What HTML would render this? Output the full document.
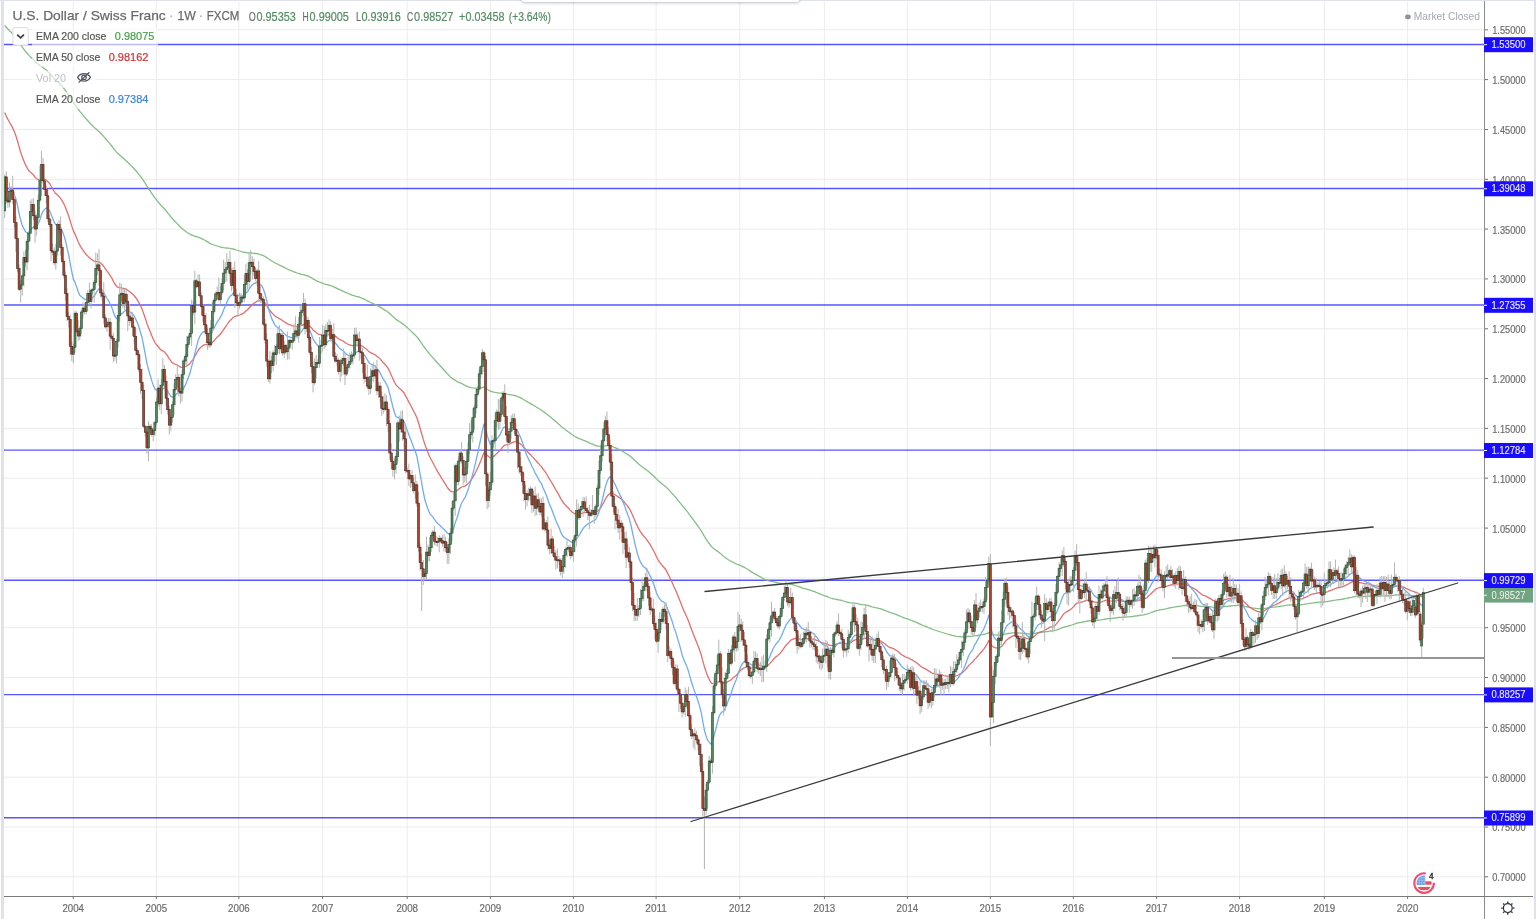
<!DOCTYPE html>
<html><head><meta charset="utf-8"><title>USDCHF 1W</title>
<style>
html,body{margin:0;padding:0;background:#fff;}
body{width:1536px;height:919px;overflow:hidden;position:relative;}
svg{position:absolute;left:0;top:0;}
#frame-top{position:absolute;left:0;top:0;width:1536px;height:1px;background:#dfe2ea;}
#frame-left{position:absolute;left:1px;top:0;width:3px;height:919px;background:#dfe2ea;}
#frame-right{position:absolute;left:1534px;top:0;width:2px;height:919px;background:#dfe2ea;}
#tb{position:absolute;left:521px;top:-6px;width:279px;height:8px;background:#fff;border-radius:4px;box-shadow:0 1px 3px rgba(60,70,90,0.35);}
</style></head><body>
<svg width="1536" height="919" viewBox="0 0 1536 919" font-family="Liberation Sans, Arial, sans-serif">
<defs><clipPath id="cp"><rect x="4" y="1" width="1480" height="895"/></clipPath></defs>
<g clip-path="url(#cp)">
<g stroke="#ececec" stroke-width="1"><line x1="4" y1="29.8" x2="1484" y2="29.8"/><line x1="4" y1="79.6" x2="1484" y2="79.6"/><line x1="4" y1="129.5" x2="1484" y2="129.5"/><line x1="4" y1="179.3" x2="1484" y2="179.3"/><line x1="4" y1="229.1" x2="1484" y2="229.1"/><line x1="4" y1="278.9" x2="1484" y2="278.9"/><line x1="4" y1="328.8" x2="1484" y2="328.8"/><line x1="4" y1="378.6" x2="1484" y2="378.6"/><line x1="4" y1="428.4" x2="1484" y2="428.4"/><line x1="4" y1="478.2" x2="1484" y2="478.2"/><line x1="4" y1="528.1" x2="1484" y2="528.1"/><line x1="4" y1="577.9" x2="1484" y2="577.9"/><line x1="4" y1="627.7" x2="1484" y2="627.7"/><line x1="4" y1="677.5" x2="1484" y2="677.5"/><line x1="4" y1="727.4" x2="1484" y2="727.4"/><line x1="4" y1="777.2" x2="1484" y2="777.2"/><line x1="4" y1="827.0" x2="1484" y2="827.0"/><line x1="4" y1="876.8" x2="1484" y2="876.8"/><line x1="73.2" y1="2" x2="73.2" y2="896"/><line x1="156.3" y1="2" x2="156.3" y2="896"/><line x1="238.9" y1="2" x2="238.9" y2="896"/><line x1="322.6" y1="2" x2="322.6" y2="896"/><line x1="407.2" y1="2" x2="407.2" y2="896"/><line x1="490.4" y1="2" x2="490.4" y2="896"/><line x1="573.4" y1="2" x2="573.4" y2="896"/><line x1="656.1" y1="2" x2="656.1" y2="896"/><line x1="739.8" y1="2" x2="739.8" y2="896"/><line x1="824.4" y1="2" x2="824.4" y2="896"/><line x1="907.4" y1="2" x2="907.4" y2="896"/><line x1="990.3" y1="2" x2="990.3" y2="896"/><line x1="1073.3" y1="2" x2="1073.3" y2="896"/><line x1="1156.6" y1="2" x2="1156.6" y2="896"/><line x1="1239.6" y1="2" x2="1239.6" y2="896"/><line x1="1324.3" y1="2" x2="1324.3" y2="896"/><line x1="1407.6" y1="2" x2="1407.6" y2="896"/></g>
<g stroke="#3a3aff" stroke-width="1.35" stroke-opacity="0.86"><line x1="4" y1="44.45" x2="1484" y2="44.45"/><line x1="4" y1="188.46" x2="1484" y2="188.46"/><line x1="4" y1="304.98" x2="1484" y2="304.98"/><line x1="4" y1="450.18" x2="1484" y2="450.18"/><line x1="4" y1="580.28" x2="1484" y2="580.28"/><line x1="4" y1="694.59" x2="1484" y2="694.59"/><line x1="4" y1="817.74" x2="1484" y2="817.74"/></g>
<polyline points="4.7,25.5 6.3,27.3 7.9,29.0 9.5,30.6 11.1,32.2 12.7,33.9 14.3,35.7 15.9,37.8 17.5,40.1 19.1,42.5 20.7,44.9 22.3,47.2 23.9,49.3 25.5,51.5 27.1,53.3 28.7,55.1 30.3,56.7 31.9,58.2 33.5,59.7 35.1,61.4 36.7,63.0 38.3,64.3 39.9,65.5 41.5,66.5 43.1,67.6 44.7,68.8 46.3,70.1 47.9,71.6 49.5,73.1 51.0,74.9 52.6,76.6 54.2,78.5 55.8,80.2 57.4,81.6 59.0,83.1 60.6,84.7 62.2,86.5 63.8,88.4 65.4,90.4 67.0,92.7 68.6,94.9 70.2,97.4 71.8,100.0 73.4,102.4 75.0,104.5 76.6,106.8 78.2,109.1 79.8,111.3 81.4,113.2 83.0,115.2 84.6,117.1 86.2,119.0 87.8,120.7 89.4,122.5 91.0,124.2 92.6,125.8 94.2,127.4 95.8,128.8 97.4,130.2 99.0,131.5 100.6,133.2 102.2,134.8 103.8,136.6 105.4,138.5 107.0,140.3 108.6,142.2 110.2,144.1 111.8,146.0 113.3,148.1 114.9,150.2 116.5,152.1 118.1,153.7 119.7,155.1 121.3,156.5 122.9,157.9 124.5,159.3 126.1,160.7 127.7,162.3 129.3,163.8 130.9,165.4 132.5,167.0 134.1,168.7 135.7,170.5 137.3,172.3 138.9,174.3 140.5,176.3 142.1,178.5 143.7,180.9 145.3,183.4 146.9,186.1 148.5,188.4 150.1,190.8 151.7,193.3 153.3,195.6 154.9,197.9 156.5,199.9 158.1,201.8 159.7,203.8 161.3,205.6 162.9,207.2 164.5,209.0 166.1,210.8 167.7,212.8 169.3,214.9 170.9,217.0 172.5,218.8 174.1,220.5 175.7,222.1 177.2,223.6 178.8,225.3 180.4,227.0 182.0,228.5 183.6,229.8 185.2,231.0 186.8,232.2 188.4,233.2 190.0,234.2 191.6,234.9 193.2,235.7 194.8,236.1 196.4,236.6 198.0,237.1 199.6,237.7 201.2,238.3 202.8,239.1 204.4,240.0 206.0,240.9 207.6,241.9 209.2,242.9 210.8,243.8 212.4,244.5 214.0,245.0 215.6,245.5 217.2,246.0 218.8,246.5 220.4,247.0 222.0,247.3 223.6,247.6 225.2,247.8 226.8,248.0 228.4,248.1 230.0,248.4 231.6,248.8 233.2,249.0 234.8,249.4 236.4,250.0 238.0,250.5 239.6,251.0 241.2,251.5 242.7,252.0 244.3,252.3 245.9,252.5 247.5,252.8 249.1,252.9 250.7,253.0 252.3,253.1 253.9,253.3 255.5,253.5 257.1,253.7 258.7,254.1 260.3,254.6 261.9,255.0 263.5,255.7 265.1,256.5 266.7,257.6 268.3,258.8 269.9,259.8 271.5,260.8 273.1,261.8 274.7,262.7 276.3,263.5 277.9,264.2 279.5,265.1 281.1,265.8 282.7,266.6 284.3,267.4 285.9,268.3 287.5,269.0 289.1,269.8 290.7,270.5 292.3,271.2 293.9,271.8 295.5,272.4 297.1,273.0 298.7,273.5 300.3,273.9 301.9,274.3 303.5,274.6 305.0,275.1 306.6,275.6 308.2,276.2 309.8,276.9 311.4,277.8 313.0,278.9 314.6,279.7 316.2,280.6 317.8,281.4 319.4,282.0 321.0,282.7 322.6,283.2 324.2,283.8 325.8,284.3 327.4,284.7 329.0,285.1 330.6,285.7 332.2,286.2 333.8,286.9 335.4,287.6 337.0,288.3 338.6,289.1 340.2,289.9 341.8,290.6 343.4,291.3 345.0,292.1 346.6,292.8 348.2,293.5 349.8,294.2 351.4,294.8 353.0,295.4 354.6,295.8 356.2,296.3 357.8,296.7 359.4,297.2 361.0,297.8 362.6,298.4 364.2,299.2 365.8,300.0 367.4,300.9 369.0,301.7 370.5,302.5 372.1,303.2 373.7,303.9 375.3,304.6 376.9,305.4 378.5,306.2 380.1,307.1 381.7,308.1 383.3,309.1 384.9,310.1 386.5,311.0 388.1,312.2 389.7,313.6 391.3,315.0 392.9,316.6 394.5,318.0 396.1,319.4 397.7,320.4 399.3,321.5 400.9,322.5 402.5,323.6 404.1,324.7 405.7,326.2 407.3,327.6 408.9,329.1 410.5,330.6 412.1,332.1 413.7,333.7 415.3,335.2 416.9,336.9 418.5,339.0 420.1,341.2 421.7,343.4 423.3,345.8 424.9,348.0 426.5,350.1 428.1,352.1 429.7,354.1 431.3,355.9 432.9,357.6 434.4,359.4 436.0,361.2 437.6,363.0 439.2,364.8 440.8,366.5 442.4,368.3 444.0,370.0 445.6,371.8 447.2,373.6 448.8,375.3 450.4,376.9 452.0,378.2 453.6,379.4 455.2,380.2 456.8,381.3 458.4,382.1 460.0,382.8 461.6,383.5 463.2,384.4 464.8,385.3 466.4,386.1 468.0,386.7 469.6,387.2 471.2,387.6 472.8,387.9 474.4,388.1 476.0,388.2 477.6,388.2 479.2,388.1 480.8,387.9 482.4,387.5 484.0,387.2 485.6,388.1 487.2,389.2 488.8,390.2 490.4,391.1 492.0,391.6 493.6,392.1 495.2,392.4 496.8,392.6 498.3,392.9 499.9,393.1 501.5,393.1 503.1,393.2 504.7,393.4 506.3,393.8 507.9,394.3 509.5,394.6 511.1,394.9 512.7,395.2 514.3,395.5 515.9,395.9 517.5,396.5 519.1,397.2 520.7,397.9 522.3,398.7 523.9,399.7 525.5,400.7 527.1,401.6 528.7,402.5 530.3,403.4 531.9,404.4 533.5,405.3 535.1,406.3 536.7,407.3 538.3,408.3 539.9,409.3 541.5,410.2 543.1,411.4 544.7,412.5 546.3,413.7 547.9,415.0 549.5,416.3 551.1,417.5 552.7,418.9 554.3,420.3 555.9,421.6 557.5,423.0 559.1,424.4 560.6,425.9 562.2,427.3 563.8,428.5 565.4,429.7 567.0,430.9 568.6,432.1 570.2,433.3 571.8,434.5 573.4,435.5 575.0,436.5 576.6,437.3 578.2,438.1 579.8,438.8 581.4,439.4 583.0,440.1 584.6,440.7 586.2,441.4 587.8,442.1 589.4,442.9 591.0,443.6 592.6,444.2 594.2,444.9 595.8,445.6 597.4,446.0 599.0,446.2 600.6,446.3 602.2,446.3 603.8,446.1 605.4,445.8 607.0,445.7 608.6,445.7 610.2,445.9 611.8,446.4 613.4,447.0 615.0,447.7 616.6,448.4 618.2,449.2 619.8,449.9 621.4,450.7 623.0,451.6 624.5,452.5 626.1,453.5 627.7,454.5 629.3,455.6 630.9,456.8 632.5,458.3 634.1,459.8 635.7,461.3 637.3,462.8 638.9,464.3 640.5,465.6 642.1,466.8 643.7,468.0 645.3,469.1 646.9,470.3 648.5,471.6 650.1,472.9 651.7,474.3 653.3,475.8 654.9,477.3 656.5,478.9 658.1,480.5 659.7,481.8 661.3,483.2 662.9,484.5 664.5,485.8 666.1,487.1 667.7,488.8 669.3,490.4 670.9,492.1 672.5,493.8 674.1,495.7 675.7,497.4 677.3,499.3 678.9,501.3 680.5,503.3 682.1,505.4 683.7,507.4 685.3,509.2 686.9,511.1 688.5,513.2 690.0,515.3 691.6,517.5 693.2,519.7 694.8,521.8 696.4,524.0 698.0,526.2 699.6,528.5 701.2,530.9 702.8,533.6 704.4,536.4 706.0,538.9 707.6,541.3 709.2,543.5 710.8,545.7 712.4,547.4 714.0,548.7 715.6,550.0 717.2,551.1 718.8,552.2 720.4,553.4 722.0,554.9 723.6,556.4 725.2,557.6 726.8,558.7 728.4,559.7 730.0,560.7 731.6,561.6 733.2,562.3 734.8,563.2 736.4,564.0 738.0,564.6 739.6,565.2 741.2,565.8 742.8,566.6 744.4,567.4 746.0,568.3 747.6,569.3 749.2,570.3 750.8,571.4 752.4,572.4 753.9,573.3 755.5,574.1 757.1,575.1 758.7,576.0 760.3,576.9 761.9,577.8 763.5,578.7 765.1,579.6 766.7,580.2 768.3,580.7 769.9,581.1 771.5,581.4 773.1,581.7 774.7,582.1 776.3,582.5 777.9,582.9 779.5,583.3 781.1,583.5 782.7,583.7 784.3,583.8 785.9,583.8 787.5,584.0 789.1,584.2 790.7,584.3 792.3,584.6 793.9,585.0 795.5,585.5 797.1,586.1 798.7,586.6 800.3,587.2 801.9,587.8 803.5,588.3 805.1,588.7 806.7,589.2 808.3,589.6 809.9,590.1 811.5,590.7 813.1,591.2 814.7,591.7 816.2,592.4 817.8,593.0 819.4,593.7 821.0,594.4 822.6,595.0 824.2,595.6 825.8,596.1 827.4,596.7 829.0,597.5 830.6,598.0 832.2,598.5 833.8,598.9 835.4,599.2 837.0,599.5 838.6,599.8 840.2,600.1 841.8,600.5 843.4,601.0 845.0,601.5 846.6,602.0 848.2,602.3 849.8,602.6 851.4,602.8 853.0,602.9 854.6,603.1 856.2,603.3 857.8,603.7 859.4,604.1 861.0,604.4 862.6,604.7 864.2,604.8 865.8,605.0 867.4,605.4 869.0,605.8 870.6,606.3 872.2,606.8 873.8,607.2 875.4,607.6 877.0,607.9 878.6,608.3 880.1,608.7 881.7,609.2 883.3,609.8 884.9,610.4 886.5,611.1 888.1,611.7 889.7,612.4 891.3,612.8 892.9,613.3 894.5,613.8 896.1,614.4 897.7,615.1 899.3,615.8 900.9,616.5 902.5,617.1 904.1,617.8 905.7,618.4 907.3,618.9 908.9,619.4 910.5,620.1 912.1,620.6 913.7,621.3 915.3,621.9 916.9,622.6 918.5,623.3 920.1,624.1 921.7,624.9 923.3,625.5 924.9,626.1 926.5,626.7 928.1,627.5 929.7,628.1 931.3,628.9 932.9,629.5 934.5,630.0 936.1,630.5 937.7,631.0 939.3,631.5 940.9,632.0 942.5,632.5 944.0,633.0 945.6,633.5 947.2,634.0 948.8,634.5 950.4,634.9 952.0,635.4 953.6,635.7 955.2,636.1 956.8,636.4 958.4,636.6 960.0,636.7 961.6,636.9 963.2,636.9 964.8,636.9 966.4,636.7 968.0,636.5 969.6,636.4 971.2,636.3 972.8,636.2 974.4,635.9 976.0,635.7 977.6,635.5 979.2,635.2 980.8,634.9 982.4,634.7 984.0,634.3 985.6,633.9 987.2,633.3 988.8,632.6 990.4,633.5 992.0,634.2 993.6,634.6 995.2,634.9 996.8,635.1 998.4,635.1 1000.0,635.2 1001.6,635.0 1003.2,634.7 1004.8,634.2 1006.4,633.8 1008.0,633.5 1009.5,633.3 1011.1,633.1 1012.7,632.9 1014.3,632.8 1015.9,632.8 1017.5,632.9 1019.1,633.1 1020.7,633.2 1022.3,633.3 1023.9,633.4 1025.5,633.6 1027.1,633.8 1028.7,633.9 1030.3,633.9 1031.9,633.8 1033.5,633.6 1035.1,633.3 1036.7,632.9 1038.3,632.7 1039.9,632.5 1041.5,632.3 1043.1,632.2 1044.7,631.9 1046.3,631.7 1047.9,631.5 1049.5,631.2 1051.1,631.0 1052.7,630.9 1054.3,630.6 1055.9,630.2 1057.5,629.7 1059.1,629.1 1060.7,628.5 1062.3,627.7 1063.9,627.1 1065.5,626.6 1067.1,626.3 1068.7,625.9 1070.3,625.5 1071.8,625.0 1073.4,624.5 1075.0,623.8 1076.6,623.2 1078.2,622.9 1079.8,622.6 1081.4,622.3 1083.0,622.0 1084.6,621.6 1086.2,621.3 1087.8,621.0 1089.4,620.8 1091.0,620.7 1092.6,620.7 1094.2,620.7 1095.8,620.5 1097.4,620.4 1099.0,620.2 1100.6,619.9 1102.2,619.7 1103.8,619.3 1105.4,619.0 1107.0,618.8 1108.6,618.6 1110.2,618.6 1111.8,618.5 1113.4,618.2 1115.0,618.0 1116.6,617.8 1118.2,617.5 1119.8,617.4 1121.4,617.3 1123.0,617.3 1124.6,617.2 1126.2,617.1 1127.8,616.9 1129.4,616.8 1131.0,616.6 1132.6,616.5 1134.2,616.2 1135.8,616.0 1137.3,615.8 1138.9,615.5 1140.5,615.2 1142.1,615.2 1143.7,614.9 1145.3,614.4 1146.9,614.1 1148.5,613.5 1150.1,613.0 1151.7,612.4 1153.3,611.8 1154.9,611.2 1156.5,610.6 1158.1,610.3 1159.7,609.9 1161.3,609.6 1162.9,609.4 1164.5,609.1 1166.1,608.8 1167.7,608.4 1169.3,608.0 1170.9,607.7 1172.5,607.4 1174.1,607.2 1175.7,606.9 1177.3,606.6 1178.9,606.3 1180.5,606.1 1182.1,605.9 1183.7,605.6 1185.3,605.5 1186.9,605.5 1188.5,605.5 1190.1,605.5 1191.7,605.5 1193.3,605.5 1194.9,605.6 1196.5,605.7 1198.1,605.9 1199.7,606.1 1201.2,606.3 1202.8,606.4 1204.4,606.5 1206.0,606.5 1207.6,606.6 1209.2,606.7 1210.8,606.9 1212.4,607.1 1214.0,607.2 1215.6,607.1 1217.2,607.2 1218.8,607.1 1220.4,607.1 1222.0,607.0 1223.6,606.7 1225.2,606.4 1226.8,606.3 1228.4,606.1 1230.0,606.0 1231.6,605.9 1233.2,605.7 1234.8,605.6 1236.4,605.5 1238.0,605.4 1239.6,605.3 1241.2,605.5 1242.8,605.9 1244.4,606.3 1246.0,606.6 1247.6,607.0 1249.2,607.3 1250.8,607.6 1252.4,607.9 1254.0,608.1 1255.6,608.3 1257.2,608.6 1258.8,608.7 1260.4,608.8 1262.0,608.8 1263.5,608.6 1265.1,608.4 1266.7,608.2 1268.3,607.9 1269.9,607.6 1271.5,607.4 1273.1,607.2 1274.7,607.1 1276.3,606.9 1277.9,606.7 1279.5,606.4 1281.1,606.1 1282.7,605.9 1284.3,605.6 1285.9,605.4 1287.5,605.1 1289.1,605.0 1290.7,604.8 1292.3,604.8 1293.9,604.8 1295.5,604.9 1297.1,605.0 1298.7,604.9 1300.3,604.8 1301.9,604.6 1303.5,604.4 1305.1,604.1 1306.7,603.9 1308.3,603.7 1309.9,603.3 1311.5,603.1 1313.1,602.9 1314.7,602.7 1316.3,602.5 1317.9,602.4 1319.5,602.2 1321.1,602.1 1322.7,602.0 1324.3,601.9 1325.9,601.7 1327.5,601.5 1329.0,601.2 1330.6,601.0 1332.2,600.7 1333.8,600.4 1335.4,600.2 1337.0,599.9 1338.6,599.7 1340.2,599.5 1341.8,599.3 1343.4,599.0 1345.0,598.7 1346.6,598.4 1348.2,598.0 1349.8,597.6 1351.4,597.3 1353.0,596.9 1354.6,596.9 1356.2,596.6 1357.8,596.6 1359.4,596.6 1361.0,596.6 1362.6,596.5 1364.2,596.4 1365.8,596.3 1367.4,596.3 1369.0,596.2 1370.6,596.2 1372.2,596.3 1373.8,596.2 1375.4,596.2 1377.0,596.2 1378.6,596.2 1380.2,596.0 1381.8,595.9 1383.4,595.8 1385.0,595.8 1386.6,595.6 1388.2,595.6 1389.8,595.6 1391.3,595.5 1392.9,595.4 1394.5,595.2 1396.1,595.0 1397.7,594.9 1399.3,594.9 1400.9,594.8 1402.5,594.9 1404.1,594.9 1405.7,595.1 1407.3,595.2 1408.9,595.3 1410.5,595.5 1412.1,595.6 1413.7,595.6 1415.3,595.8 1416.9,595.8 1418.5,596.0 1420.1,596.4 1421.7,596.7 1423.3,596.7" fill="none" stroke="#7dbb7d" stroke-width="1.3" stroke-opacity="0.95" stroke-linejoin="round"/>
<polyline points="4.7,112.6 6.3,116.1 7.9,119.4 9.5,122.3 11.1,124.9 12.7,127.9 14.3,131.6 15.9,135.8 17.5,141.0 19.1,146.8 20.7,152.2 22.3,157.0 23.9,161.0 25.5,164.9 27.1,167.9 28.7,170.5 30.3,172.1 31.9,173.4 33.5,175.0 35.1,177.1 36.7,178.7 38.3,179.6 39.9,179.6 41.5,179.0 43.1,179.1 44.7,179.5 46.3,180.1 47.9,181.7 49.5,183.3 51.0,186.0 52.6,188.6 54.2,191.5 55.8,193.8 57.4,195.0 59.0,196.4 60.6,198.4 62.2,200.9 63.8,203.8 65.4,207.3 67.0,211.6 68.6,215.8 70.2,220.9 71.8,226.1 73.4,230.9 75.0,234.1 76.6,237.9 78.2,241.8 79.8,245.2 81.4,247.8 83.0,250.2 84.6,252.6 86.2,254.5 87.8,256.1 89.4,257.8 91.0,259.1 92.6,260.3 94.2,261.2 95.8,261.5 97.4,261.6 99.0,261.9 100.6,263.2 102.2,264.5 103.8,266.5 105.4,268.9 107.0,271.1 108.6,273.1 110.2,275.6 111.8,278.0 113.3,281.1 114.9,284.0 116.5,286.2 118.1,287.4 119.7,287.7 121.3,287.9 122.9,288.5 124.5,288.7 126.1,289.2 127.7,290.3 129.3,291.5 130.9,292.5 132.5,293.9 134.1,295.5 135.7,297.7 137.3,299.9 138.9,302.6 140.5,305.8 142.1,309.1 143.7,313.7 145.3,318.3 146.9,323.4 148.5,327.5 150.1,331.4 151.7,335.5 153.3,339.2 154.9,342.5 156.5,344.8 158.1,346.5 159.7,348.7 161.3,350.2 162.9,350.9 164.5,352.1 166.1,353.9 167.7,356.1 169.3,358.8 170.9,361.1 172.5,362.8 174.1,363.9 175.7,364.5 177.2,365.0 178.8,366.0 180.4,367.1 182.0,367.4 183.6,367.1 185.2,366.7 186.8,365.9 188.4,364.7 190.0,363.5 191.6,361.2 193.2,359.3 194.8,356.2 196.4,353.5 198.0,350.7 199.6,348.5 201.2,346.9 202.8,345.6 204.4,344.8 206.0,344.4 207.6,344.3 209.2,344.3 210.8,343.7 212.4,342.4 214.0,340.8 215.6,338.9 217.2,337.1 218.8,335.7 220.4,334.0 222.0,332.0 223.6,329.7 225.2,327.3 226.8,325.0 228.4,322.5 230.0,320.6 231.6,319.2 233.2,317.3 234.8,316.5 236.4,315.9 238.0,315.5 239.6,315.0 241.2,314.3 242.7,313.7 244.3,312.5 245.9,311.0 247.5,309.8 249.1,308.0 250.7,306.2 252.3,304.6 253.9,303.3 255.5,302.4 257.1,301.1 258.7,300.8 260.3,300.7 261.9,300.7 263.5,301.6 265.1,303.1 266.7,305.4 268.3,308.3 269.9,310.3 271.5,312.5 273.1,314.1 274.7,315.7 276.3,316.9 277.9,317.5 279.5,318.8 281.1,319.4 282.7,320.7 284.3,321.7 285.9,322.9 287.5,323.9 289.1,324.5 290.7,325.2 292.3,325.8 293.9,326.1 295.5,326.3 297.1,326.7 298.7,326.6 300.3,326.0 301.9,325.4 303.5,324.6 305.0,324.7 306.6,324.5 308.2,325.1 309.8,326.1 311.4,327.7 313.0,329.9 314.6,331.3 316.2,332.6 317.8,333.8 319.4,334.3 321.0,334.7 322.6,334.7 324.2,335.1 325.8,334.9 327.4,334.8 329.0,334.4 330.6,334.6 332.2,334.6 333.8,335.4 335.4,336.4 337.0,337.4 338.6,338.7 340.2,339.7 341.8,340.5 343.4,341.2 345.0,342.5 346.6,343.5 348.2,344.3 349.8,345.0 351.4,345.3 353.0,345.7 354.6,345.3 356.2,345.1 357.8,344.9 359.4,345.2 361.0,345.5 362.6,346.2 364.2,347.4 365.8,348.6 367.4,350.1 369.0,351.6 370.5,352.6 372.1,353.3 373.7,354.2 375.3,354.8 376.9,356.2 378.5,357.4 380.1,358.9 381.7,360.9 383.3,362.7 384.9,364.3 386.5,366.1 388.1,368.3 389.7,371.6 391.3,375.2 392.9,378.8 394.5,382.2 396.1,385.1 397.7,386.6 399.3,388.3 400.9,389.5 402.5,391.2 404.1,393.0 405.7,396.1 407.3,399.0 408.9,402.1 410.5,405.0 412.1,408.1 413.7,411.3 415.3,414.2 416.9,417.7 418.5,422.8 420.1,428.2 421.7,433.7 423.3,439.4 424.9,444.6 426.5,448.8 428.1,453.0 429.7,456.7 431.3,459.8 432.9,462.7 434.4,465.7 436.0,468.7 437.6,471.6 439.2,474.2 440.8,476.8 442.4,479.4 444.0,481.8 445.6,484.4 447.2,487.1 448.8,489.3 450.4,491.1 452.0,491.7 453.6,492.1 455.2,491.1 456.8,490.7 458.4,489.5 460.0,488.1 461.6,487.0 463.2,486.5 464.8,486.1 466.4,485.1 468.0,483.7 469.6,481.8 471.2,479.8 472.8,477.4 474.4,474.7 476.0,471.5 477.6,468.3 479.2,464.6 480.8,460.8 482.4,456.5 484.0,452.7 485.6,453.6 487.2,455.4 488.8,456.8 490.4,457.8 492.0,457.1 493.6,456.4 495.2,455.0 496.8,453.4 498.3,452.1 499.9,450.6 501.5,448.6 503.1,446.4 504.7,445.2 506.3,444.8 507.9,444.7 509.5,444.2 511.1,443.3 512.7,442.4 514.3,441.9 515.9,441.6 517.5,442.0 519.1,443.0 520.7,444.1 522.3,445.6 523.9,447.5 525.5,449.5 527.1,451.3 528.7,453.0 530.3,454.4 531.9,456.4 533.5,457.9 535.1,459.9 536.7,461.5 538.3,463.2 539.9,465.1 541.5,466.6 543.1,469.1 544.7,471.2 546.3,473.5 547.9,476.3 549.5,479.1 551.1,481.5 552.7,484.3 554.3,487.1 555.9,490.0 557.5,492.7 559.1,495.4 560.6,498.4 562.2,501.0 563.8,503.2 565.4,505.0 567.0,506.7 568.6,508.3 570.2,510.1 571.8,511.8 573.4,512.9 575.0,513.8 576.6,513.6 578.2,513.8 579.8,513.6 581.4,513.3 583.0,512.9 584.6,512.7 586.2,512.6 587.8,512.6 589.4,512.7 591.0,512.8 592.6,512.7 594.2,512.8 595.8,512.5 597.4,511.6 599.0,510.0 600.6,507.8 602.2,505.2 603.8,502.2 605.4,499.0 607.0,496.5 608.6,494.5 610.2,493.2 611.8,493.3 613.4,493.9 615.0,494.7 616.6,495.7 618.2,496.9 619.8,497.9 621.4,499.1 623.0,500.8 624.5,502.3 626.1,504.4 627.7,506.3 629.3,508.5 630.9,511.4 632.5,515.1 634.1,518.8 635.7,522.6 637.3,526.0 638.9,529.2 640.5,531.9 642.1,534.2 643.7,536.3 645.3,537.9 646.9,539.8 648.5,542.1 650.1,544.7 651.7,547.3 653.3,550.2 654.9,553.3 656.5,556.8 658.1,559.8 659.7,562.1 661.3,564.4 662.9,566.2 664.5,568.0 666.1,570.1 667.7,573.5 669.3,576.5 670.9,579.7 672.5,583.2 674.1,587.1 675.7,590.3 677.3,594.2 678.9,598.1 680.5,602.2 682.1,606.5 683.7,610.4 685.3,613.7 686.9,617.2 688.5,621.0 690.0,625.3 691.6,629.6 693.2,633.7 694.8,637.7 696.4,641.7 698.0,645.7 699.6,650.0 701.2,654.8 702.8,660.8 704.4,666.7 706.0,671.5 707.6,675.9 709.2,679.2 710.8,682.5 712.4,683.7 714.0,683.7 715.6,683.3 717.2,682.6 718.8,681.5 720.4,681.5 722.0,682.0 723.6,683.0 725.2,682.8 726.8,682.4 728.4,681.3 730.0,680.6 731.6,679.4 733.2,677.7 734.8,676.5 736.4,675.2 738.0,673.3 739.6,671.4 741.2,669.7 742.8,668.6 744.4,667.7 746.0,667.4 747.6,667.4 749.2,667.7 750.8,668.1 752.4,668.2 753.9,667.9 755.5,667.6 757.1,667.6 758.7,667.7 760.3,667.7 761.9,667.8 763.5,667.7 765.1,667.6 766.7,666.5 768.3,665.1 769.9,663.4 771.5,661.6 773.1,659.6 774.7,658.0 776.3,656.6 777.9,655.4 779.5,653.9 781.1,652.1 782.7,650.0 784.3,647.7 785.9,645.4 787.5,643.7 789.1,642.1 790.7,640.3 792.3,639.4 793.9,638.8 795.5,638.5 797.1,638.7 798.7,638.9 800.3,639.2 801.9,639.3 803.5,639.3 805.1,639.1 806.7,638.9 808.3,638.7 809.9,638.8 811.5,638.9 813.1,639.1 814.7,639.4 816.2,640.1 817.8,640.7 819.4,641.5 821.0,642.3 822.6,642.9 824.2,643.3 825.8,643.6 827.4,644.0 829.0,645.1 830.6,645.3 832.2,645.6 833.8,645.2 835.4,644.7 837.0,643.9 838.6,643.4 840.2,643.1 841.8,642.9 843.4,643.2 845.0,643.4 846.6,643.7 848.2,643.4 849.8,643.1 851.4,642.2 853.0,640.9 854.6,640.1 856.2,639.5 857.8,639.9 859.4,640.1 861.0,639.8 862.6,639.3 864.2,638.4 865.8,638.1 867.4,638.4 869.0,638.6 870.6,639.1 872.2,639.7 873.8,640.1 875.4,640.3 877.0,640.2 878.6,640.5 880.1,640.9 881.7,641.7 883.3,642.8 884.9,643.8 886.5,645.3 888.1,646.5 889.7,647.5 891.3,647.9 892.9,648.4 894.5,649.2 896.1,650.2 897.7,651.3 899.3,652.6 900.9,654.0 902.5,655.2 904.1,656.1 905.7,657.0 907.3,657.7 908.9,658.1 910.5,659.3 912.1,659.8 913.7,661.0 915.3,661.8 916.9,663.1 918.5,664.2 920.1,665.8 921.7,667.0 923.3,667.8 924.9,668.6 926.5,669.4 928.1,670.7 929.7,671.5 931.3,672.7 932.9,673.5 934.5,673.9 936.1,674.1 937.7,674.4 939.3,674.5 940.9,674.9 942.5,675.2 944.0,675.6 945.6,675.8 947.2,676.1 948.8,676.4 950.4,676.3 952.0,676.6 953.6,676.4 955.2,676.1 956.8,675.6 958.4,675.0 960.0,674.1 961.6,673.2 963.2,671.9 964.8,670.4 966.4,668.5 968.0,666.3 969.6,664.6 971.2,663.1 972.8,661.9 974.4,659.6 976.0,658.1 977.6,656.3 979.2,654.4 980.8,652.5 982.4,650.7 984.0,648.8 985.6,646.4 987.2,643.8 988.8,640.6 990.4,643.6 992.0,645.9 993.6,647.1 995.2,647.7 996.8,648.1 998.4,647.7 1000.0,647.4 1001.6,646.4 1003.2,644.6 1004.8,642.2 1006.4,640.2 1008.0,638.9 1009.5,637.9 1011.1,636.8 1012.7,636.0 1014.3,635.6 1015.9,635.6 1017.5,635.7 1019.1,636.3 1020.7,636.8 1022.3,636.9 1023.9,637.3 1025.5,637.8 1027.1,638.5 1028.7,638.7 1030.3,638.6 1031.9,637.8 1033.5,636.9 1035.1,635.6 1036.7,634.1 1038.3,632.9 1039.9,632.2 1041.5,631.7 1043.1,631.3 1044.7,630.2 1046.3,629.4 1047.9,628.5 1049.5,627.4 1051.1,626.8 1052.7,626.6 1054.3,625.7 1055.9,624.4 1057.5,622.6 1059.1,620.4 1060.7,618.3 1062.3,615.8 1063.9,613.7 1065.5,612.4 1067.1,611.6 1068.7,610.6 1070.3,609.6 1071.8,608.4 1073.4,606.9 1075.0,605.0 1076.6,603.3 1078.2,602.8 1079.8,602.6 1081.4,602.1 1083.0,601.7 1084.6,601.0 1086.2,600.6 1087.8,600.2 1089.4,600.3 1091.0,600.6 1092.6,601.4 1094.2,602.1 1095.8,602.2 1097.4,602.6 1099.0,602.3 1100.6,602.1 1102.2,601.7 1103.8,601.0 1105.4,600.4 1107.0,600.3 1108.6,600.5 1110.2,600.9 1111.8,601.2 1113.4,600.9 1115.0,600.8 1116.6,600.5 1118.2,600.2 1119.8,600.5 1121.4,600.8 1123.0,601.3 1124.6,601.7 1126.2,601.7 1127.8,601.6 1129.4,601.7 1131.0,601.7 1132.6,601.7 1134.2,601.4 1135.8,601.2 1137.3,600.6 1138.9,600.0 1140.5,599.8 1142.1,600.1 1143.7,599.7 1145.3,598.3 1146.9,597.6 1148.5,595.8 1150.1,594.5 1151.7,593.0 1153.3,591.6 1154.9,589.9 1156.5,588.6 1158.1,588.0 1159.7,587.5 1161.3,587.2 1162.9,587.2 1164.5,586.8 1166.1,586.3 1167.7,585.9 1169.3,585.3 1170.9,585.0 1172.5,584.6 1174.1,584.6 1175.7,584.2 1177.3,584.1 1178.9,583.6 1180.5,583.7 1182.1,583.9 1183.7,583.7 1185.3,584.2 1186.9,584.9 1188.5,585.7 1190.1,586.5 1191.7,587.4 1193.3,588.1 1194.9,589.0 1196.5,590.0 1198.1,591.4 1199.7,592.7 1201.2,594.0 1202.8,595.1 1204.4,595.7 1206.0,596.1 1207.6,597.1 1209.2,597.9 1210.8,598.9 1212.4,600.1 1214.0,600.7 1215.6,600.7 1217.2,601.3 1218.8,601.2 1220.4,601.3 1222.0,601.0 1223.6,600.3 1225.2,599.4 1226.8,599.1 1228.4,598.7 1230.0,598.6 1231.6,598.3 1233.2,597.9 1234.8,597.8 1236.4,597.6 1238.0,597.8 1239.6,597.8 1241.2,598.8 1242.8,600.4 1244.4,602.2 1246.0,603.6 1247.6,605.2 1249.2,606.8 1250.8,607.8 1252.4,608.9 1254.0,609.9 1255.6,610.5 1257.2,611.4 1258.8,611.7 1260.4,612.1 1262.0,611.8 1263.5,611.2 1265.1,610.2 1266.7,609.2 1268.3,608.0 1269.9,607.0 1271.5,606.3 1273.1,605.5 1274.7,605.0 1276.3,604.4 1277.9,603.5 1279.5,602.7 1281.1,601.6 1282.7,601.0 1284.3,600.0 1285.9,599.4 1287.5,598.6 1289.1,598.1 1290.7,598.0 1292.3,597.9 1293.9,598.3 1295.5,599.0 1297.1,599.6 1298.7,599.5 1300.3,599.2 1301.9,598.9 1303.5,598.3 1305.1,597.3 1306.7,596.9 1308.3,596.0 1309.9,595.0 1311.5,594.4 1313.1,593.9 1314.7,593.6 1316.3,593.3 1317.9,592.9 1319.5,592.7 1321.1,592.7 1322.7,592.8 1324.3,592.5 1325.9,592.2 1327.5,591.8 1329.0,590.9 1330.6,590.5 1332.2,589.8 1333.8,589.2 1335.4,588.5 1337.0,587.9 1338.6,587.5 1340.2,587.3 1341.8,586.9 1343.4,586.4 1345.0,585.7 1346.6,584.9 1348.2,584.0 1349.8,583.0 1351.4,582.4 1353.0,581.4 1354.6,581.7 1356.2,581.5 1357.8,582.0 1359.4,582.5 1361.0,582.8 1362.6,583.2 1364.2,583.5 1365.8,583.6 1367.4,583.9 1369.0,584.1 1370.6,584.3 1372.2,585.2 1373.8,585.5 1375.4,585.9 1377.0,586.1 1378.6,586.4 1380.2,586.3 1381.8,586.4 1383.4,586.2 1385.0,586.4 1386.6,586.3 1388.2,586.5 1389.8,586.8 1391.3,586.7 1392.9,586.6 1394.5,586.2 1396.1,586.0 1397.7,585.8 1399.3,586.0 1400.9,586.3 1402.5,586.8 1404.1,587.3 1405.7,588.3 1407.3,588.8 1408.9,589.6 1410.5,590.5 1412.1,591.1 1413.7,591.4 1415.3,592.4 1416.9,592.5 1418.5,593.3 1420.1,595.1 1421.7,596.3 1423.3,596.1" fill="none" stroke="#e06666" stroke-width="1.3" stroke-opacity="0.95" stroke-linejoin="round"/>
<polyline points="4.7,188.8 6.3,189.9 7.9,191.0 9.5,191.1 11.1,191.0 12.7,191.8 14.3,194.7 15.9,198.9 17.5,205.5 19.1,213.5 20.7,220.3 22.3,225.6 23.9,228.6 25.5,231.8 27.1,232.7 28.7,232.8 30.3,230.7 31.9,228.2 33.5,227.0 35.1,227.2 36.7,226.3 38.3,223.8 39.9,219.7 41.5,214.4 43.1,211.3 44.7,209.2 46.3,207.9 47.9,208.9 49.5,210.4 51.0,214.3 52.6,217.9 54.2,222.2 55.8,224.9 57.4,224.9 59.0,225.3 60.6,227.4 62.2,230.7 63.8,234.9 65.4,240.5 67.0,247.7 68.6,254.6 70.2,263.3 71.8,272.0 73.4,279.1 75.0,282.4 76.6,287.0 78.2,291.7 79.8,295.2 81.4,296.8 83.0,297.9 84.6,299.2 86.2,299.5 87.8,298.9 89.4,299.2 91.0,298.3 92.6,297.5 94.2,296.1 95.8,293.4 97.4,290.7 99.0,288.8 100.6,289.2 102.2,289.8 103.8,292.5 105.4,295.8 107.0,298.5 108.6,300.8 110.2,304.2 111.8,307.4 113.3,312.0 114.9,316.2 116.5,318.5 118.1,318.3 119.7,316.0 121.3,313.9 122.9,312.9 124.5,311.1 126.1,310.2 127.7,310.7 129.3,311.7 130.9,312.3 132.5,313.7 134.1,315.8 135.7,319.1 137.3,322.5 138.9,327.0 140.5,332.2 142.1,337.8 143.7,346.2 145.3,354.4 146.9,363.3 148.5,369.3 150.1,375.0 151.7,380.6 153.3,385.4 154.9,388.9 156.5,390.2 158.1,390.0 159.7,391.3 161.3,390.7 162.9,388.7 164.5,388.0 166.1,389.0 167.7,390.9 169.3,394.2 170.9,396.4 172.5,397.2 174.1,396.5 175.7,394.8 177.2,393.2 178.8,393.0 180.4,393.0 182.0,391.3 183.6,388.4 185.2,385.4 186.8,381.5 188.4,377.2 190.0,373.1 191.6,366.6 193.2,361.4 194.8,353.7 196.4,347.3 198.0,341.1 199.6,336.8 201.2,333.9 202.8,332.1 204.4,331.4 206.0,331.7 207.6,332.7 209.2,333.9 210.8,333.3 212.4,331.2 214.0,328.3 215.6,325.0 217.2,321.9 218.8,319.8 220.4,317.2 222.0,314.0 223.6,310.1 225.2,306.3 226.8,302.6 228.4,298.7 230.0,296.3 231.6,295.3 233.2,292.9 234.8,293.2 236.4,294.1 238.0,295.2 239.6,295.9 241.2,296.0 242.7,296.2 244.3,295.0 245.9,293.0 247.5,291.9 249.1,289.1 250.7,286.6 252.3,284.7 253.9,283.4 255.5,283.0 257.1,281.8 258.7,282.9 260.3,284.4 261.9,285.8 263.5,289.5 265.1,294.3 266.7,300.7 268.3,308.1 269.9,313.1 271.5,318.1 273.1,321.4 274.7,324.6 276.3,326.7 277.9,327.4 279.5,329.4 281.1,329.9 282.7,332.1 284.3,333.4 285.9,335.2 287.5,336.4 289.1,336.8 290.7,337.3 292.3,337.6 293.9,337.2 295.5,336.6 297.1,336.5 298.7,335.3 300.3,333.2 301.9,331.0 303.5,328.4 305.0,328.4 306.6,327.6 308.2,328.6 309.8,330.9 311.4,334.3 313.0,338.9 314.6,341.6 316.2,343.6 317.8,345.5 319.4,345.6 321.0,345.6 322.6,344.6 324.2,344.6 325.8,343.3 327.4,342.1 329.0,340.5 330.6,340.3 332.2,339.8 333.8,341.3 335.4,343.2 337.0,344.8 338.6,347.4 340.2,348.9 341.8,350.0 343.4,350.8 345.0,353.0 346.6,354.4 348.2,355.3 349.8,355.9 351.4,355.8 353.0,355.8 354.6,353.8 356.2,352.5 357.8,351.3 359.4,351.3 361.0,351.4 362.6,352.6 364.2,355.0 365.8,357.2 367.4,359.9 369.0,362.6 370.5,364.0 372.1,364.6 373.7,365.7 375.3,366.1 376.9,368.4 378.5,370.1 380.1,372.7 381.7,376.1 383.3,379.2 384.9,381.4 386.5,384.1 388.1,387.8 389.7,394.0 391.3,400.5 392.9,407.0 394.5,412.5 396.1,416.7 397.7,417.3 399.3,418.4 400.9,418.5 402.5,419.8 404.1,421.6 405.7,426.3 407.3,430.5 408.9,435.1 410.5,439.0 412.1,443.1 413.7,447.7 415.3,451.2 416.9,456.2 418.5,464.8 420.1,474.1 421.7,483.1 423.3,492.1 424.9,499.8 426.5,504.8 428.1,509.6 429.7,513.3 431.3,515.4 432.9,517.0 434.4,519.3 436.0,521.4 437.6,523.4 439.2,524.8 440.8,526.3 442.4,527.9 444.0,529.2 445.6,531.0 447.2,533.0 448.8,534.1 450.4,534.0 452.0,531.6 453.6,528.6 455.2,522.6 456.8,518.7 458.4,513.2 460.0,507.5 461.6,503.0 463.2,500.4 464.8,497.9 466.4,494.4 468.0,490.1 469.6,484.9 471.2,479.8 472.8,473.9 474.4,467.6 476.0,460.7 477.6,453.9 479.2,446.2 480.8,438.7 482.4,430.5 484.0,423.8 485.6,428.5 487.2,435.4 488.8,440.6 490.4,444.6 492.0,444.2 493.6,443.8 495.2,441.6 496.8,438.8 498.3,437.2 499.9,435.0 501.5,431.5 503.1,427.9 504.7,426.8 506.3,427.6 507.9,428.9 509.5,429.2 511.1,428.5 512.7,427.6 514.3,427.8 515.9,428.5 517.5,430.8 519.1,434.2 520.7,437.8 522.3,441.9 523.9,446.9 525.5,451.9 527.1,455.9 528.7,459.6 530.3,462.5 531.9,466.5 533.5,469.3 535.1,473.0 536.7,475.6 538.3,478.5 539.9,481.7 541.5,483.7 543.1,488.0 544.7,491.4 546.3,495.0 547.9,499.8 549.5,504.4 551.1,507.7 552.7,512.0 554.3,516.3 555.9,520.5 557.5,524.2 559.1,527.7 560.6,531.8 562.2,535.1 563.8,537.0 565.4,538.2 567.0,539.2 568.6,540.0 570.2,541.4 571.8,542.4 573.4,542.2 575.0,541.6 576.6,538.6 578.2,536.6 579.8,534.1 581.4,531.4 583.0,528.6 584.6,526.7 586.2,525.2 587.8,524.0 589.4,523.1 591.0,522.2 592.6,521.1 594.2,520.5 595.8,519.2 597.4,516.2 599.0,511.9 600.6,506.5 602.2,500.3 603.8,493.5 605.4,486.6 607.0,481.6 608.6,478.2 610.2,476.6 611.8,478.5 613.4,481.2 615.0,484.3 616.6,487.7 618.2,491.5 619.8,494.6 621.4,497.6 623.0,501.9 624.5,505.4 626.1,510.3 627.7,514.4 629.3,518.9 630.9,525.0 632.5,532.6 634.1,539.9 635.7,547.1 637.3,553.1 638.9,558.3 640.5,562.2 642.1,564.9 643.7,566.9 645.3,568.0 646.9,569.7 648.5,572.4 650.1,575.9 651.7,579.1 653.3,583.3 654.9,587.7 656.5,592.8 658.1,596.6 659.7,598.8 661.3,600.9 662.9,601.7 664.5,602.7 666.1,604.6 667.7,609.5 669.3,613.4 670.9,617.7 672.5,622.4 674.1,628.2 675.7,632.1 677.3,637.6 678.9,642.9 680.5,648.7 682.1,654.7 683.7,659.6 685.3,663.0 686.9,666.6 688.5,671.3 690.0,676.8 691.6,682.5 693.2,687.4 694.8,691.9 696.4,696.5 698.0,701.0 699.6,706.1 701.2,712.4 702.8,721.5 704.4,730.0 706.0,735.7 707.6,740.2 709.2,742.2 710.8,744.1 712.4,741.1 714.0,735.8 715.6,729.9 717.2,723.7 718.8,717.1 720.4,713.7 722.0,711.9 723.6,711.4 725.2,708.2 726.8,704.9 728.4,700.0 730.0,696.5 731.6,692.0 733.2,686.8 734.8,683.1 736.4,679.2 738.0,674.1 739.6,669.4 741.2,665.7 742.8,663.2 744.4,661.5 746.0,661.6 747.6,662.1 749.2,663.4 750.8,664.5 752.4,665.2 753.9,664.8 755.5,664.2 757.1,664.6 758.7,665.1 760.3,665.4 761.9,665.8 763.5,665.9 765.1,665.9 766.7,663.3 768.3,660.1 769.9,656.6 771.5,652.7 773.1,648.8 774.7,646.0 776.3,643.7 777.9,642.0 779.5,639.6 781.1,636.6 782.7,632.9 784.3,629.1 785.9,625.2 787.5,622.9 789.1,621.0 790.7,618.7 792.3,618.6 793.9,619.1 795.5,620.2 797.1,622.6 798.7,624.5 800.3,626.5 801.9,628.2 803.5,629.2 805.1,629.6 806.7,630.1 808.3,630.3 809.9,631.3 811.5,632.4 813.1,633.6 814.7,634.8 816.2,636.8 817.8,638.6 819.4,640.8 821.0,642.9 822.6,644.1 824.2,645.2 825.8,645.5 827.4,646.5 829.0,648.9 830.6,649.1 832.2,649.4 833.8,647.9 835.4,646.5 837.0,644.4 838.6,643.3 840.2,642.4 841.8,642.1 843.4,642.9 845.0,643.4 846.6,644.0 848.2,643.3 849.8,642.5 851.4,640.6 853.0,637.4 854.6,635.9 856.2,634.9 857.8,636.2 859.4,636.9 861.0,636.7 862.6,635.8 864.2,633.8 865.8,633.6 867.4,634.7 869.0,635.7 870.6,637.0 872.2,638.7 873.8,639.7 875.4,640.3 877.0,640.1 878.6,640.7 880.1,641.8 881.7,643.5 883.3,646.0 884.9,648.2 886.5,651.4 888.1,653.8 889.7,655.6 891.3,655.8 892.9,656.2 894.5,657.3 896.1,659.0 897.7,660.8 899.3,663.1 900.9,665.6 902.5,667.2 904.1,668.5 905.7,669.5 907.3,669.8 908.9,669.8 910.5,671.5 912.1,671.6 913.7,673.3 915.3,674.1 916.9,676.1 918.5,677.5 920.1,680.2 921.7,681.8 923.3,682.2 924.9,682.7 926.5,683.3 928.1,685.1 929.7,685.9 931.3,687.3 932.9,687.8 934.5,687.6 936.1,686.8 937.7,686.3 939.3,685.2 940.9,685.2 942.5,685.0 944.0,685.0 945.6,684.7 947.2,684.5 948.8,684.4 950.4,683.4 952.0,683.4 953.6,682.3 955.2,681.0 956.8,679.4 958.4,677.6 960.0,675.2 961.6,672.7 963.2,669.8 964.8,666.3 966.4,662.1 968.0,657.4 969.6,654.0 971.2,651.5 972.8,649.6 974.4,645.3 976.0,642.9 977.6,639.9 979.2,636.8 980.8,634.0 982.4,631.3 984.0,628.5 985.6,624.6 987.2,620.4 988.8,615.0 990.4,624.7 992.0,632.1 993.6,636.3 995.2,638.8 996.8,640.5 998.4,640.3 1000.0,640.3 1001.6,638.6 1003.2,634.8 1004.8,629.9 1006.4,626.4 1008.0,624.6 1009.5,623.4 1011.1,622.2 1012.7,621.6 1014.3,622.0 1015.9,623.3 1017.5,624.8 1019.1,627.3 1020.7,629.3 1022.3,630.2 1023.9,631.9 1025.5,633.6 1027.1,635.8 1028.7,636.4 1030.3,636.5 1031.9,634.7 1033.5,632.9 1035.1,630.1 1036.7,626.8 1038.3,624.7 1039.9,623.8 1041.5,623.4 1043.1,623.1 1044.7,621.3 1046.3,620.2 1047.9,618.8 1049.5,617.2 1051.1,616.6 1052.7,617.0 1054.3,615.9 1055.9,613.7 1057.5,610.2 1059.1,606.2 1060.7,602.3 1062.3,597.8 1063.9,594.3 1065.5,593.2 1067.1,593.1 1068.7,592.3 1070.3,591.6 1071.8,590.5 1073.4,588.6 1075.0,585.5 1076.6,583.3 1078.2,583.9 1079.8,585.3 1081.4,585.8 1083.0,586.5 1084.6,586.2 1086.2,586.6 1087.8,587.0 1089.4,588.4 1091.0,590.2 1092.6,593.3 1094.2,595.6 1095.8,596.7 1097.4,598.0 1099.0,597.7 1100.6,597.7 1102.2,597.1 1103.8,596.0 1105.4,594.9 1107.0,595.2 1108.6,596.2 1110.2,597.6 1111.8,598.6 1113.4,598.2 1115.0,598.2 1116.6,597.6 1118.2,597.3 1119.8,598.2 1121.4,599.2 1123.0,600.5 1124.6,601.6 1126.2,601.6 1127.8,601.4 1129.4,601.7 1131.0,601.7 1132.6,601.5 1134.2,600.9 1135.8,600.4 1137.3,599.1 1138.9,597.8 1140.5,597.4 1142.1,598.4 1143.7,597.7 1145.3,594.4 1146.9,593.0 1148.5,589.3 1150.1,586.7 1151.7,583.6 1153.3,581.2 1154.9,578.1 1156.5,576.0 1158.1,575.8 1159.7,575.7 1161.3,576.2 1162.9,577.2 1164.5,577.1 1166.1,577.0 1167.7,576.7 1169.3,576.2 1170.9,576.3 1172.5,576.3 1174.1,577.0 1175.7,576.8 1177.3,577.2 1178.9,576.6 1180.5,577.6 1182.1,578.7 1183.7,578.8 1185.3,580.4 1186.9,582.4 1188.5,584.5 1190.1,586.7 1191.7,588.8 1193.3,590.3 1194.9,592.4 1196.5,594.5 1198.1,597.5 1199.7,600.1 1201.2,602.6 1202.8,604.4 1204.4,604.9 1206.0,605.1 1207.6,606.6 1209.2,607.6 1210.8,609.0 1212.4,611.0 1214.0,611.4 1215.6,610.5 1217.2,611.0 1218.8,609.8 1220.4,609.3 1222.0,607.9 1223.6,605.5 1225.2,602.8 1226.8,601.8 1228.4,600.4 1230.0,600.0 1231.6,599.3 1233.2,598.2 1234.8,597.9 1236.4,597.5 1238.0,598.0 1239.6,597.8 1241.2,600.2 1242.8,604.0 1244.4,608.0 1246.0,610.8 1247.6,614.0 1249.2,617.1 1250.8,618.6 1252.4,620.2 1254.0,621.6 1255.6,622.0 1257.2,623.1 1258.8,622.6 1260.4,622.5 1262.0,620.8 1263.5,618.5 1265.1,615.5 1266.7,612.6 1268.3,609.1 1269.9,606.7 1271.5,605.1 1273.1,603.3 1274.7,602.3 1276.3,601.0 1277.9,599.2 1279.5,597.7 1281.1,595.5 1282.7,594.6 1284.3,592.7 1285.9,591.9 1287.5,590.8 1289.1,590.4 1290.7,590.7 1292.3,591.3 1293.9,592.7 1295.5,595.0 1297.1,596.8 1298.7,596.8 1300.3,596.4 1301.9,595.9 1303.5,594.7 1305.1,592.7 1306.7,592.1 1308.3,590.5 1309.9,588.5 1311.5,587.8 1313.1,587.0 1314.7,587.0 1316.3,586.8 1317.9,586.7 1319.5,586.7 1321.1,587.4 1322.7,588.0 1324.3,587.8 1325.9,587.4 1327.5,587.0 1329.0,585.3 1330.6,584.8 1332.2,583.6 1333.8,582.8 1335.4,581.7 1337.0,580.9 1338.6,580.7 1340.2,580.6 1341.8,580.5 1343.4,579.8 1345.0,578.7 1346.6,577.4 1348.2,576.0 1349.8,574.3 1351.4,573.6 1353.0,572.0 1354.6,573.8 1356.2,574.0 1357.8,575.9 1359.4,577.7 1361.0,579.0 1362.6,580.3 1364.2,581.1 1365.8,581.7 1367.4,582.7 1369.0,583.3 1370.6,583.9 1372.2,585.9 1373.8,586.7 1375.4,587.5 1377.0,587.8 1378.6,588.4 1380.2,587.9 1381.8,588.0 1383.4,587.5 1385.0,587.8 1386.6,587.4 1388.2,587.8 1389.8,588.3 1391.3,588.0 1392.9,587.7 1394.5,586.7 1396.1,586.1 1397.7,585.6 1399.3,586.0 1400.9,586.8 1402.5,588.0 1404.1,589.1 1405.7,591.2 1407.3,592.2 1408.9,593.8 1410.5,595.6 1412.1,596.5 1413.7,596.9 1415.3,598.6 1416.9,598.4 1418.5,599.7 1420.1,603.5 1421.7,605.6 1423.3,604.3" fill="none" stroke="#6aa8ef" stroke-width="1.3" stroke-opacity="0.95" stroke-linejoin="round"/>
<path d="M4.72 174.4V217.9M6.32 171.2V203.5M7.91 197.2V207.9M9.51 182.6V207.3M11.11 186.1V197.7M12.71 175.7V203.9M14.31 191.6V227.4M15.90 216.4V252.2M17.50 223.0V272.3M19.10 264.2V291.3M20.69 279.8V302.6M22.29 273.9V295.5M23.89 251.3V286.8M25.49 249.7V266.7M27.09 239.0V270.4M28.68 231.1V250.5M30.28 200.5V241.2M31.88 199.0V217.3M33.48 198.3V219.9M35.07 210.6V242.9M36.67 214.3V235.5M38.27 194.6V223.9M39.87 165.6V202.6M41.46 151.0V196.2M43.06 157.8V184.3M44.66 179.2V195.8M46.26 185.5V203.6M47.85 189.9V221.8M49.45 214.4V227.0M51.05 219.3V261.1M52.64 243.3V255.3M54.24 247.5V265.4M55.84 244.1V269.7M57.44 222.5V255.5M59.04 220.2V232.8M60.63 216.4V255.6M62.23 244.0V263.2M63.83 258.6V278.2M65.42 271.4V300.5M67.02 287.8V321.3M68.62 311.6V327.4M70.22 314.5V355.0M71.82 341.2V361.3M73.41 343.7V363.2M75.01 310.5V352.7M76.61 311.4V333.4M78.20 320.1V340.9M79.80 326.2V340.1M81.40 310.1V334.1M83.00 302.4V318.5M84.60 303.3V314.6M86.19 300.9V314.5M87.79 290.3V304.9M89.39 282.5V304.9M90.99 288.6V308.4M92.58 288.1V294.6M94.18 280.0V302.6M95.78 252.6V285.1M97.38 253.4V275.3M98.97 248.8V285.8M100.57 268.4V297.3M102.17 289.7V300.6M103.77 282.2V324.0M105.36 314.3V328.5M106.96 319.9V331.9M108.56 318.0V327.4M110.15 317.9V350.1M111.75 334.5V340.8M113.35 332.6V362.3M114.95 353.7V360.9M116.55 338.9V363.7M118.14 303.1V347.7M119.74 282.7V321.7M121.34 283.6V301.3M122.93 287.5V308.3M124.53 288.8V309.8M126.13 287.7V312.7M127.73 294.2V331.2M129.33 303.9V326.0M130.92 312.4V323.4M132.52 312.3V335.8M134.12 325.2V343.8M135.71 327.6V355.2M137.31 347.7V356.2M138.91 351.4V372.7M140.51 364.1V393.8M142.11 368.5V399.0M143.70 384.8V428.1M145.30 424.7V436.8M146.90 430.1V453.7M148.50 420.9V461.0M150.09 423.9V432.9M151.69 424.3V436.6M153.29 428.0V441.1M154.88 421.0V436.0M156.48 397.3V425.2M158.08 379.4V406.7M159.68 384.6V409.8M161.28 379.3V413.9M162.87 358.3V386.8M164.47 364.9V389.4M166.07 375.5V406.3M167.66 389.7V414.6M169.26 405.6V434.5M170.86 415.2V431.3M172.46 401.4V422.4M174.06 383.4V414.6M175.65 374.4V391.2M177.25 363.9V387.3M178.85 373.9V396.5M180.44 387.9V403.5M182.04 369.7V401.5M183.64 358.9V379.0M185.24 354.0V364.8M186.84 335.8V366.0M188.43 335.2V347.3M190.03 328.7V340.2M191.63 299.7V345.9M193.22 300.5V315.4M194.82 270.8V324.2M196.42 278.9V288.1M198.02 274.3V288.2M199.62 274.4V297.6M201.21 291.6V308.2M202.81 303.5V321.7M204.41 306.2V329.9M206.01 313.3V336.1M207.60 327.9V349.7M209.20 339.2V348.0M210.80 320.1V347.2M212.39 302.2V333.3M213.99 298.1V313.8M215.59 291.7V302.2M217.19 286.8V295.9M218.79 277.6V301.4M220.38 286.3V304.8M221.98 278.6V295.0M223.58 259.7V290.7M225.17 261.9V282.4M226.77 252.9V281.5M228.37 258.8V272.6M229.97 250.5V283.2M231.57 268.7V291.1M233.16 266.9V288.6M234.76 261.5V307.9M236.36 288.6V305.2M237.95 300.3V316.8M239.55 292.9V308.6M241.15 293.1V305.3M242.75 295.3V302.2M244.35 275.6V302.4M245.94 263.7V292.6M247.54 269.2V289.7M249.14 253.5V288.0M250.73 250.2V274.3M252.33 256.3V279.6M253.93 258.5V275.9M255.53 267.7V281.1M257.12 268.4V285.8M258.72 261.2V301.7M260.32 284.2V303.3M261.92 293.9V302.9M263.52 296.5V325.8M265.11 318.9V343.8M266.71 333.2V366.8M268.31 359.1V382.1M269.90 351.0V383.6M271.50 355.9V373.3M273.10 349.9V371.5M274.70 345.3V361.6M276.30 344.0V364.7M277.89 328.5V353.0M279.49 325.2V354.1M281.09 332.8V351.9M282.68 331.8V355.8M284.28 340.9V358.1M285.88 343.9V354.5M287.48 331.5V359.7M289.08 339.0V359.4M290.67 338.6V346.4M292.27 333.1V349.8M293.87 323.6V342.8M295.46 316.3V335.9M297.06 325.7V338.8M298.66 316.6V342.8M300.26 306.1V334.2M301.86 304.3V317.2M303.45 293.0V315.6M305.05 298.4V334.4M306.65 315.6V331.8M308.25 317.3V340.1M309.84 335.3V355.0M311.44 346.7V373.3M313.04 361.3V392.5M314.63 358.3V384.9M316.23 354.9V378.2M317.83 359.2V365.1M319.43 337.0V367.8M321.03 339.8V353.9M322.62 324.9V351.5M324.22 326.0V349.2M325.82 323.9V347.4M327.41 321.9V336.7M329.01 319.4V335.4M330.61 321.1V341.8M332.21 328.8V343.2M333.81 323.0V359.5M335.40 352.0V362.6M337.00 353.8V365.8M338.60 358.2V374.6M340.19 359.0V381.7M341.79 357.2V376.5M343.39 348.4V365.9M344.99 353.6V385.2M346.59 365.2V376.1M348.18 357.0V371.8M349.78 352.6V368.7M351.38 351.3V364.1M352.97 352.6V364.4M354.57 327.8V358.8M356.17 327.5V346.4M357.77 333.0V346.9M359.37 331.7V360.7M360.96 345.2V359.1M362.56 348.0V373.1M364.16 357.8V383.4M365.76 373.9V381.9M367.35 364.6V388.9M368.95 376.2V394.9M370.55 368.5V393.8M372.14 364.6V381.2M373.74 362.2V382.1M375.34 365.0V379.1M376.94 359.8V395.2M378.54 381.6V397.7M380.13 381.8V402.4M381.73 391.5V415.9M383.33 395.8V413.7M384.92 393.2V411.4M386.52 395.1V425.9M388.12 407.1V431.9M389.72 420.5V459.6M391.32 443.4V469.0M392.91 457.4V476.6M394.51 458.6V479.3M396.11 452.9V473.7M397.70 420.8V461.3M399.30 415.5V441.8M400.90 411.1V432.6M402.50 410.2V440.7M404.10 424.6V451.7M405.69 426.2V473.5M407.29 467.5V473.2M408.89 463.5V486.1M410.49 473.6V487.9M412.08 470.0V486.9M413.68 477.8V493.7M415.28 474.4V498.5M416.88 480.8V506.5M418.47 491.9V551.7M420.07 543.3V570.6M421.67 554.1V611.0M423.26 560.1V585.1M424.86 570.8V580.3M426.46 536.6V579.9M428.06 544.4V561.2M429.65 537.0V561.4M431.25 533.0V551.9M432.85 529.8V539.5M434.45 526.2V545.3M436.04 536.2V546.0M437.64 537.1V546.6M439.24 535.2V552.3M440.84 536.7V543.0M442.44 535.2V546.6M444.03 534.0V551.7M445.63 536.6V552.1M447.23 541.9V563.8M448.83 538.3V563.8M450.42 528.0V553.9M452.02 501.2V541.2M453.62 491.4V510.3M455.22 463.6V515.9M456.81 463.3V485.4M458.41 456.1V485.5M460.01 449.8V463.6M461.61 442.1V463.6M463.20 456.2V484.6M464.80 467.0V482.3M466.40 449.6V483.0M468.00 442.3V468.4M469.59 423.2V453.9M471.19 420.4V439.1M472.79 408.2V442.5M474.38 404.7V429.8M475.98 388.7V413.5M477.58 386.2V396.3M479.18 369.4V392.6M480.77 365.2V378.4M482.37 349.0V374.7M483.97 351.0V372.0M485.57 355.7V485.9M487.16 471.9V509.1M488.76 487.0V507.5M490.36 471.7V495.5M491.96 435.3V485.9M493.55 438.3V447.5M495.15 413.3V449.2M496.75 409.2V427.4M498.35 398.9V430.2M499.95 399.5V429.0M501.54 396.1V417.2M503.14 391.0V401.1M504.74 384.3V423.8M506.34 405.8V440.6M507.93 428.8V452.9M509.53 428.3V445.0M511.13 415.3V438.9M512.73 413.9V426.1M514.32 413.1V433.7M515.92 423.2V441.5M517.52 434.0V468.5M519.12 450.0V473.8M520.71 457.3V475.8M522.31 466.3V485.0M523.91 472.9V501.5M525.50 484.9V509.7M527.10 490.1V506.4M528.70 487.7V501.3M530.30 486.2V500.4M531.89 487.5V513.0M533.49 490.9V511.7M535.09 486.4V516.0M536.69 494.2V515.4M538.28 493.1V510.2M539.88 497.8V515.1M541.48 498.4V516.5M543.08 496.6V530.6M544.67 518.9V531.1M546.27 520.1V533.3M547.87 516.4V549.6M549.47 539.3V554.2M551.07 528.8V553.8M552.66 535.9V556.3M554.26 546.0V560.7M555.86 550.0V569.7M557.46 548.4V568.3M559.05 555.9V564.5M560.65 558.2V575.4M562.25 558.5V577.9M563.85 550.8V573.7M565.44 547.5V567.6M567.04 539.6V557.1M568.64 545.2V551.8M570.24 544.6V559.3M571.83 547.3V557.6M573.43 537.8V561.6M575.03 534.0V551.9M576.62 499.2V546.7M578.22 503.3V519.8M579.82 507.3V519.8M581.42 500.8V511.4M583.01 496.8V516.8M584.61 497.4V512.4M586.21 496.4V512.6M587.81 507.0V520.1M589.40 504.9V529.1M591.00 509.1V517.1M592.60 494.9V515.4M594.20 508.2V524.0M595.79 504.2V517.0M597.39 484.6V511.3M598.99 460.8V495.1M600.59 444.8V474.0M602.18 439.1V462.1M603.78 422.1V450.0M605.38 416.2V436.4M606.98 411.6V441.3M608.58 427.2V450.9M610.17 439.8V470.8M611.77 454.2V506.6M613.37 491.3V512.3M614.97 503.2V529.5M616.56 507.2V524.6M618.16 508.7V533.1M619.76 515.1V539.7M621.36 520.2V532.1M622.95 522.5V554.1M624.55 532.4V549.7M626.15 531.5V568.0M627.75 544.4V560.2M629.34 547.2V567.7M630.94 560.3V590.5M632.54 577.6V611.3M634.13 593.1V621.0M635.73 605.2V620.9M637.33 597.9V620.7M638.93 605.2V617.1M640.52 589.0V614.9M642.12 577.7V601.3M643.72 583.1V601.1M645.32 573.1V590.8M646.91 567.6V591.3M648.51 583.0V605.9M650.11 591.3V615.0M651.71 606.6V611.7M653.30 598.3V626.5M654.90 616.1V639.3M656.50 622.6V643.2M658.10 627.4V653.0M659.69 612.1V639.4M661.29 613.3V630.0M662.89 606.6V624.1M664.49 604.4V616.8M666.09 602.5V629.5M667.68 616.5V662.3M669.28 645.9V657.9M670.88 648.4V665.2M672.48 656.8V674.9M674.07 661.0V685.5M675.67 664.3V688.9M677.27 664.5V691.8M678.87 687.6V712.0M680.46 689.1V708.9M682.06 696.9V717.4M683.66 703.2V714.5M685.25 687.4V716.8M686.85 690.0V708.7M688.45 686.9V717.3M690.05 712.7V732.1M691.64 724.7V739.0M693.24 731.5V747.9M694.84 728.5V749.9M696.44 730.6V743.0M698.03 737.3V750.2M699.63 739.5V766.2M701.23 743.5V773.4M702.83 763.0V818.8M704.42 796.4V869.0M706.02 783.9V815.2M707.62 779.7V808.3M709.22 755.9V784.0M710.81 758.0V764.1M712.41 706.1V773.7M714.01 677.5V715.1M715.61 670.8V689.3M717.21 655.1V684.9M718.80 639.6V669.4M720.40 651.3V683.8M722.00 667.3V698.2M723.60 689.0V715.3M725.19 671.8V711.3M726.79 668.9V680.0M728.39 648.9V678.2M729.99 651.4V664.9M731.58 645.3V665.1M733.18 634.7V652.1M734.78 632.0V661.8M736.38 637.3V651.8M737.97 612.2V650.8M739.57 614.8V631.7M741.17 618.8V642.1M742.76 621.5V645.7M744.36 632.0V651.5M745.96 642.2V666.5M747.56 655.1V670.3M749.15 663.0V677.5M750.75 672.2V678.8M752.35 663.6V683.9M753.95 650.8V674.0M755.54 651.4V665.0M757.14 653.4V672.4M758.74 662.6V674.0M760.34 661.7V675.8M761.93 656.4V682.4M763.53 654.8V681.8M765.13 660.6V669.7M766.73 634.2V672.2M768.32 627.6V640.7M769.92 617.6V642.4M771.52 601.7V636.8M773.12 610.5V621.1M774.72 608.0V621.5M776.31 615.9V624.9M777.91 616.6V628.5M779.51 614.8V629.3M781.11 602.3V618.2M782.70 595.7V613.3M784.30 585.7V601.3M785.90 580.7V597.8M787.50 584.1V606.1M789.09 599.1V607.7M790.69 587.5V604.6M792.29 592.5V621.3M793.88 615.1V629.6M795.48 617.5V632.8M797.08 625.5V653.5M798.68 635.3V649.7M800.27 634.2V648.3M801.87 640.1V648.3M803.47 631.6V645.4M805.07 629.9V642.0M806.66 627.1V642.3M808.26 621.9V637.3M809.86 631.0V647.8M811.46 636.2V647.4M813.05 638.3V649.9M814.65 633.3V650.3M816.25 642.7V662.6M817.85 649.2V664.2M819.44 654.3V668.9M821.04 657.4V670.3M822.64 648.5V668.5M824.24 643.6V661.2M825.84 639.8V663.4M827.43 641.4V667.6M829.03 650.0V679.2M830.63 647.2V679.8M832.23 648.4V654.9M833.82 632.2V657.6M835.42 630.5V636.5M837.02 621.2V634.3M838.62 613.4V636.3M840.21 630.4V636.4M841.81 628.8V648.5M843.41 637.3V657.4M845.00 644.5V652.3M846.60 644.9V656.6M848.20 629.6V653.0M849.80 632.3V645.4M851.39 620.2V636.6M852.99 603.5V625.9M854.59 604.6V632.3M856.19 614.2V630.7M857.78 617.7V649.8M859.38 639.5V655.7M860.98 621.3V650.2M862.58 622.1V639.4M864.17 607.7V639.2M865.77 605.4V633.7M867.37 625.0V647.6M868.97 638.2V661.6M870.56 637.0V655.0M872.16 636.5V661.0M873.76 637.9V663.0M875.36 641.9V663.1M876.95 633.7V647.1M878.55 631.3V651.5M880.15 641.1V655.5M881.75 650.0V667.3M883.35 655.7V674.1M884.94 667.6V680.5M886.54 666.1V690.1M888.14 672.2V687.1M889.74 660.2V679.3M891.33 655.6V676.6M892.93 653.2V663.1M894.53 654.2V681.3M896.12 663.0V679.8M897.72 670.9V685.2M899.32 675.6V690.9M900.92 682.3V693.0M902.51 674.1V695.7M904.11 673.8V690.9M905.71 675.9V682.6M907.31 664.8V683.7M908.90 668.2V676.0M910.50 666.8V690.5M912.10 665.9V690.0M913.70 667.3V696.0M915.29 676.6V694.2M916.89 673.8V703.9M918.49 686.1V699.3M920.09 681.3V714.1M921.68 693.8V712.0M923.28 680.2V700.0M924.88 680.5V690.8M926.48 680.2V695.8M928.08 682.5V708.9M929.67 691.3V706.4M931.27 688.6V708.2M932.87 688.9V705.7M934.46 668.2V696.8M936.06 668.4V688.2M937.66 675.7V687.1M939.26 669.3V688.1M940.86 671.6V695.1M942.45 678.2V689.8M944.05 679.0V694.9M945.65 678.7V689.0M947.25 676.7V688.9M948.84 674.2V692.4M950.44 665.8V687.3M952.04 667.0V685.6M953.63 661.1V685.4M955.23 661.4V675.1M956.83 654.3V673.1M958.43 656.9V666.1M960.02 650.6V662.1M961.62 640.6V668.1M963.22 640.5V656.0M964.82 628.9V646.0M966.41 609.5V638.6M968.01 608.0V629.2M969.61 609.6V623.8M971.21 615.5V634.6M972.80 621.7V636.5M974.40 600.2V635.4M976.00 593.0V627.4M977.60 609.8V623.3M979.19 602.2V617.3M980.79 599.3V611.6M982.39 603.8V612.3M983.99 598.0V613.9M985.59 577.1V606.9M987.18 578.2V599.6M988.78 556.6V583.8M990.38 554.0V746.0M991.97 665.6V712.3M993.57 670.3V723.1M995.17 656.2V684.4M996.77 654.0V666.1M998.37 631.6V662.4M999.96 630.9V649.9M1001.56 610.5V645.0M1003.16 591.6V628.6M1004.75 578.6V606.4M1006.35 577.6V604.2M1007.95 586.0V615.3M1009.55 604.7V620.4M1011.14 606.7V618.3M1012.74 609.4V627.1M1014.34 612.2V629.7M1015.94 620.2V648.1M1017.53 633.5V642.3M1019.13 636.5V659.6M1020.73 641.5V660.1M1022.33 622.2V654.1M1023.92 633.6V652.3M1025.52 643.0V657.1M1027.12 647.1V659.8M1028.72 637.0V663.6M1030.32 631.0V653.8M1031.91 601.6V640.5M1033.51 613.3V626.8M1035.11 597.0V620.5M1036.70 586.6V609.8M1038.30 594.4V610.2M1039.90 597.1V618.2M1041.50 610.2V627.6M1043.10 617.6V623.3M1044.69 594.2V641.0M1046.29 598.4V616.2M1047.89 601.4V613.5M1049.48 598.3V607.1M1051.08 597.9V615.9M1052.68 608.2V632.4M1054.28 602.5V629.8M1055.88 584.4V607.7M1057.47 574.8V594.6M1059.07 562.3V579.2M1060.67 558.3V572.2M1062.26 550.4V576.0M1063.86 547.2V567.2M1065.46 557.3V589.1M1067.06 579.2V604.4M1068.65 579.2V605.6M1070.25 576.2V593.4M1071.85 576.3V586.3M1073.45 567.0V591.9M1075.05 550.5V576.3M1076.64 544.2V565.8M1078.24 556.6V602.4M1079.84 579.8V613.5M1081.43 588.4V600.3M1083.03 583.3V594.9M1084.63 578.7V598.2M1086.23 572.1V601.2M1087.83 587.5V593.0M1089.42 586.4V604.8M1091.02 596.9V613.9M1092.62 605.6V625.9M1094.21 615.8V628.7M1095.81 603.6V621.5M1097.41 603.6V620.1M1099.01 585.6V615.2M1100.61 589.5V601.1M1102.20 585.2V599.6M1103.80 582.9V595.0M1105.40 579.0V592.2M1106.99 576.2V602.9M1108.59 593.8V608.6M1110.19 601.7V621.9M1111.79 603.0V613.2M1113.38 590.2V615.0M1114.98 586.2V609.6M1116.58 581.1V603.2M1118.18 577.7V599.6M1119.78 592.5V610.7M1121.37 604.1V611.2M1122.97 602.9V620.5M1124.57 606.5V617.4M1126.16 596.5V616.7M1127.76 596.3V604.5M1129.36 596.6V612.7M1130.96 599.2V607.1M1132.55 589.3V608.8M1134.15 588.1V606.0M1135.75 591.5V599.1M1137.35 583.4V602.0M1138.94 574.8V591.4M1140.54 577.1V600.9M1142.14 588.0V613.0M1143.74 584.3V609.5M1145.34 559.7V593.7M1146.93 558.0V587.9M1148.53 545.8V582.9M1150.13 546.5V571.8M1151.72 547.7V571.9M1153.32 545.5V562.3M1154.92 544.5V567.5M1156.52 546.3V559.4M1158.12 549.4V582.5M1159.71 568.4V577.7M1161.31 569.5V585.1M1162.91 575.0V591.4M1164.51 571.6V598.0M1166.10 566.1V578.4M1167.70 564.3V579.1M1169.30 568.8V577.8M1170.89 566.1V580.9M1172.49 569.3V583.8M1174.09 573.3V587.1M1175.69 571.2V588.7M1177.28 567.8V583.0M1178.88 565.6V589.8M1180.48 566.4V589.0M1182.08 585.7V594.8M1183.67 569.9V590.3M1185.27 576.5V602.0M1186.87 588.4V607.0M1188.47 598.9V613.1M1190.07 596.3V611.9M1191.66 594.1V610.3M1193.26 601.5V612.1M1194.86 598.6V613.6M1196.45 600.1V616.9M1198.05 611.1V632.3M1199.65 621.2V634.4M1201.25 619.5V628.7M1202.85 609.6V632.2M1204.44 603.9V631.0M1206.04 602.9V617.2M1207.64 602.9V625.1M1209.23 613.7V622.7M1210.83 613.3V627.2M1212.43 611.8V631.9M1214.03 606.9V639.1M1215.62 598.7V620.8M1217.22 599.0V621.9M1218.82 594.9V620.3M1220.42 594.9V607.1M1222.01 590.3V608.2M1223.61 573.7V596.4M1225.21 571.6V590.5M1226.81 575.1V598.0M1228.40 583.7V596.7M1230.00 574.8V602.0M1231.60 585.8V602.6M1233.20 578.1V603.1M1234.80 584.1V600.5M1236.39 584.5V601.5M1237.99 588.1V605.2M1239.59 583.9V607.5M1241.18 591.3V627.4M1242.78 619.1V645.3M1244.38 636.5V650.7M1245.98 628.2V650.5M1247.58 635.4V648.7M1249.17 637.4V650.2M1250.77 628.6V648.8M1252.37 630.8V646.1M1253.96 632.6V644.5M1255.56 620.0V643.1M1257.16 623.5V639.8M1258.76 612.3V638.1M1260.36 614.9V624.0M1261.95 603.1V630.3M1263.55 590.8V615.2M1265.15 576.8V600.0M1266.74 579.6V589.1M1268.34 572.1V595.4M1269.94 573.4V587.4M1271.54 578.0V595.0M1273.13 577.1V599.1M1274.73 573.9V599.0M1276.33 578.3V598.7M1277.93 573.2V591.3M1279.52 578.0V586.8M1281.12 569.4V589.3M1282.72 568.6V594.4M1284.32 565.3V587.5M1285.91 571.3V592.7M1287.51 575.9V589.3M1289.11 571.2V598.7M1290.71 577.4V601.8M1292.30 592.1V601.0M1293.90 591.6V610.0M1295.50 603.9V619.6M1297.10 609.3V632.0M1298.69 589.9V616.7M1300.29 590.2V601.3M1301.89 588.6V594.1M1303.49 581.1V598.8M1305.09 563.4V585.8M1306.68 566.9V589.0M1308.28 566.2V593.0M1309.88 567.2V580.2M1311.47 562.7V587.8M1313.07 569.5V585.3M1314.67 576.5V590.0M1316.27 578.0V593.0M1317.87 581.7V587.5M1319.46 581.5V590.7M1321.06 579.5V607.6M1322.66 590.6V605.8M1324.25 572.7V603.3M1325.85 580.3V587.6M1327.45 579.5V588.5M1329.05 561.5V586.4M1330.64 561.4V587.1M1332.24 569.4V583.9M1333.84 567.5V583.2M1335.44 559.6V580.4M1337.03 568.6V577.6M1338.63 566.6V587.0M1340.23 572.9V586.7M1341.83 572.1V587.5M1343.42 569.0V585.4M1345.02 564.2V578.0M1346.62 561.3V574.7M1348.22 556.6V575.0M1349.82 549.5V564.1M1351.41 554.1V572.5M1353.01 555.0V575.4M1354.61 555.4V593.2M1356.20 566.9V597.1M1357.80 569.7V597.5M1359.40 591.4V598.7M1361.00 588.3V607.1M1362.60 585.4V602.8M1364.19 584.3V594.7M1365.79 583.1V598.8M1367.39 585.3V602.0M1368.98 581.4V596.3M1370.58 585.4V597.4M1372.18 585.7V607.3M1373.78 589.9V607.1M1375.38 591.0V597.1M1376.97 583.7V604.1M1378.57 588.3V597.0M1380.17 577.0V597.5M1381.76 576.0V596.2M1383.36 576.2V595.2M1384.96 576.0V601.9M1386.56 577.0V596.7M1388.15 574.6V597.2M1389.75 581.3V599.4M1391.35 574.6V598.9M1392.95 579.1V588.0M1394.54 562.4V586.1M1396.14 574.1V583.7M1397.74 577.2V591.7M1399.34 576.2V601.4M1400.93 580.8V597.6M1402.53 588.9V603.0M1404.13 592.3V604.9M1405.73 591.9V613.6M1407.33 599.6V620.4M1408.92 594.0V612.9M1410.52 600.7V616.0M1412.12 596.3V616.1M1413.71 596.9V612.3M1415.31 603.0V618.0M1416.91 592.0V616.0M1418.51 593.0V614.0M1420.11 611.0V643.0M1421.70 622.0V658.0M1423.30 587.8V638.5" stroke="#b4b4b4" stroke-width="1" fill="none"/>
<g fill="#4e8a5b" stroke="#2f4a35" stroke-width="0.6"><rect x="3.72" y="176.9" width="2.0" height="34.0"/><rect x="8.51" y="191.4" width="2.0" height="10.6"/><rect x="10.11" y="190.0" width="2.0" height="1.4"/><rect x="19.69" y="284.9" width="2.0" height="4.3"/><rect x="21.29" y="275.9" width="2.0" height="9.1"/><rect x="22.89" y="257.5" width="2.0" height="18.4"/><rect x="26.09" y="241.3" width="2.0" height="20.7"/><rect x="27.68" y="233.2" width="2.0" height="8.1"/><rect x="29.28" y="211.3" width="2.0" height="21.9"/><rect x="30.88" y="204.6" width="2.0" height="6.8"/><rect x="35.67" y="217.5" width="2.0" height="11.5"/><rect x="37.27" y="200.2" width="2.0" height="17.4"/><rect x="38.87" y="180.6" width="2.0" height="19.5"/><rect x="40.46" y="164.5" width="2.0" height="16.1"/><rect x="54.84" y="251.1" width="2.0" height="11.7"/><rect x="56.44" y="224.6" width="2.0" height="26.5"/><rect x="72.41" y="347.2" width="2.0" height="7.0"/><rect x="74.01" y="313.2" width="2.0" height="34.0"/><rect x="78.80" y="328.6" width="2.0" height="7.4"/><rect x="80.40" y="312.0" width="2.0" height="16.6"/><rect x="82.00" y="308.1" width="2.0" height="3.9"/><rect x="85.19" y="302.5" width="2.0" height="9.1"/><rect x="86.79" y="293.5" width="2.0" height="9.0"/><rect x="89.99" y="290.2" width="2.0" height="11.4"/><rect x="91.58" y="289.7" width="2.0" height="1.0"/><rect x="93.18" y="282.4" width="2.0" height="7.3"/><rect x="94.78" y="268.4" width="2.0" height="14.0"/><rect x="96.38" y="264.9" width="2.0" height="3.5"/><rect x="105.96" y="324.6" width="2.0" height="2.2"/><rect x="107.56" y="322.2" width="2.0" height="2.4"/><rect x="113.95" y="355.4" width="2.0" height="1.0"/><rect x="115.55" y="341.2" width="2.0" height="14.2"/><rect x="117.14" y="315.5" width="2.0" height="25.7"/><rect x="118.74" y="294.8" width="2.0" height="20.7"/><rect x="120.34" y="293.5" width="2.0" height="1.3"/><rect x="123.53" y="294.2" width="2.0" height="9.2"/><rect x="129.92" y="317.9" width="2.0" height="2.7"/><rect x="147.50" y="426.3" width="2.0" height="21.6"/><rect x="152.29" y="430.5" width="2.0" height="4.0"/><rect x="153.88" y="422.6" width="2.0" height="7.9"/><rect x="155.48" y="402.0" width="2.0" height="20.5"/><rect x="157.08" y="388.1" width="2.0" height="13.9"/><rect x="160.28" y="385.2" width="2.0" height="18.6"/><rect x="161.87" y="369.5" width="2.0" height="15.7"/><rect x="169.86" y="417.3" width="2.0" height="7.8"/><rect x="171.46" y="404.8" width="2.0" height="12.5"/><rect x="173.06" y="389.6" width="2.0" height="15.2"/><rect x="174.65" y="379.3" width="2.0" height="10.3"/><rect x="176.25" y="377.3" width="2.0" height="2.0"/><rect x="181.04" y="374.7" width="2.0" height="18.4"/><rect x="182.64" y="360.9" width="2.0" height="13.7"/><rect x="184.24" y="356.6" width="2.0" height="4.4"/><rect x="185.84" y="344.4" width="2.0" height="12.2"/><rect x="187.43" y="337.0" width="2.0" height="7.4"/><rect x="189.03" y="333.3" width="2.0" height="3.7"/><rect x="190.63" y="305.5" width="2.0" height="27.9"/><rect x="193.82" y="280.8" width="2.0" height="31.3"/><rect x="197.02" y="281.9" width="2.0" height="4.5"/><rect x="209.80" y="328.1" width="2.0" height="16.8"/><rect x="211.39" y="311.6" width="2.0" height="16.5"/><rect x="212.99" y="300.4" width="2.0" height="11.2"/><rect x="214.59" y="293.9" width="2.0" height="6.5"/><rect x="216.19" y="292.3" width="2.0" height="1.6"/><rect x="219.38" y="292.7" width="2.0" height="7.1"/><rect x="220.98" y="283.4" width="2.0" height="9.3"/><rect x="222.58" y="273.1" width="2.0" height="10.3"/><rect x="224.17" y="269.6" width="2.0" height="3.5"/><rect x="225.77" y="267.6" width="2.0" height="2.0"/><rect x="227.37" y="262.3" width="2.0" height="5.3"/><rect x="232.16" y="270.5" width="2.0" height="14.9"/><rect x="238.55" y="302.3" width="2.0" height="3.1"/><rect x="240.15" y="297.1" width="2.0" height="5.1"/><rect x="243.35" y="284.4" width="2.0" height="13.6"/><rect x="244.94" y="273.6" width="2.0" height="10.7"/><rect x="248.14" y="262.7" width="2.0" height="18.9"/><rect x="249.73" y="262.2" width="2.0" height="1.0"/><rect x="256.12" y="270.9" width="2.0" height="7.6"/><rect x="268.90" y="361.0" width="2.0" height="17.9"/><rect x="272.10" y="352.9" width="2.0" height="12.5"/><rect x="275.30" y="346.6" width="2.0" height="7.9"/><rect x="276.89" y="333.7" width="2.0" height="12.9"/><rect x="280.09" y="335.2" width="2.0" height="13.7"/><rect x="283.28" y="345.5" width="2.0" height="7.4"/><rect x="286.48" y="348.1" width="2.0" height="3.7"/><rect x="288.08" y="340.6" width="2.0" height="7.5"/><rect x="291.27" y="340.4" width="2.0" height="1.9"/><rect x="292.87" y="333.6" width="2.0" height="6.8"/><rect x="294.46" y="330.9" width="2.0" height="2.7"/><rect x="297.66" y="324.2" width="2.0" height="11.1"/><rect x="299.26" y="312.5" width="2.0" height="11.7"/><rect x="300.86" y="310.5" width="2.0" height="2.0"/><rect x="302.45" y="303.7" width="2.0" height="6.9"/><rect x="305.65" y="320.3" width="2.0" height="8.2"/><rect x="313.63" y="367.7" width="2.0" height="15.1"/><rect x="315.23" y="362.5" width="2.0" height="5.2"/><rect x="318.43" y="346.5" width="2.0" height="16.9"/><rect x="320.03" y="345.3" width="2.0" height="1.2"/><rect x="321.62" y="335.2" width="2.0" height="10.1"/><rect x="324.82" y="330.6" width="2.0" height="14.2"/><rect x="328.01" y="325.3" width="2.0" height="5.6"/><rect x="331.21" y="334.7" width="2.0" height="3.9"/><rect x="336.00" y="360.2" width="2.0" height="1.0"/><rect x="339.19" y="363.7" width="2.0" height="7.8"/><rect x="340.79" y="360.1" width="2.0" height="3.6"/><rect x="342.39" y="358.3" width="2.0" height="1.8"/><rect x="345.59" y="367.7" width="2.0" height="6.3"/><rect x="347.18" y="364.3" width="2.0" height="3.4"/><rect x="348.78" y="361.5" width="2.0" height="2.8"/><rect x="350.38" y="355.1" width="2.0" height="6.5"/><rect x="351.97" y="355.0" width="2.0" height="1.0"/><rect x="353.57" y="335.0" width="2.0" height="20.0"/><rect x="356.77" y="339.0" width="2.0" height="1.7"/><rect x="364.76" y="377.2" width="2.0" height="1.2"/><rect x="369.55" y="376.7" width="2.0" height="11.8"/><rect x="371.14" y="370.8" width="2.0" height="5.8"/><rect x="374.34" y="369.8" width="2.0" height="6.1"/><rect x="377.54" y="386.1" width="2.0" height="4.8"/><rect x="383.92" y="402.0" width="2.0" height="7.0"/><rect x="393.51" y="464.4" width="2.0" height="5.0"/><rect x="395.11" y="456.6" width="2.0" height="7.8"/><rect x="396.70" y="422.9" width="2.0" height="33.7"/><rect x="399.90" y="419.8" width="2.0" height="9.2"/><rect x="406.29" y="470.5" width="2.0" height="1.0"/><rect x="409.49" y="475.6" width="2.0" height="3.3"/><rect x="414.28" y="484.8" width="2.0" height="5.9"/><rect x="423.86" y="573.7" width="2.0" height="2.9"/><rect x="425.46" y="552.1" width="2.0" height="21.6"/><rect x="428.65" y="547.7" width="2.0" height="7.8"/><rect x="430.25" y="535.5" width="2.0" height="12.2"/><rect x="431.85" y="532.1" width="2.0" height="3.3"/><rect x="438.24" y="538.3" width="2.0" height="3.7"/><rect x="443.03" y="541.5" width="2.0" height="1.6"/><rect x="447.83" y="544.4" width="2.0" height="8.1"/><rect x="449.42" y="533.2" width="2.0" height="11.3"/><rect x="451.02" y="508.1" width="2.0" height="25.0"/><rect x="452.62" y="500.9" width="2.0" height="7.2"/><rect x="454.22" y="465.8" width="2.0" height="35.0"/><rect x="457.41" y="461.1" width="2.0" height="20.5"/><rect x="459.01" y="453.1" width="2.0" height="8.0"/><rect x="463.80" y="474.1" width="2.0" height="1.0"/><rect x="465.40" y="461.2" width="2.0" height="12.8"/><rect x="467.00" y="449.9" width="2.0" height="11.4"/><rect x="468.59" y="434.8" width="2.0" height="15.0"/><rect x="470.19" y="432.1" width="2.0" height="2.7"/><rect x="471.79" y="417.7" width="2.0" height="14.4"/><rect x="473.38" y="407.9" width="2.0" height="9.8"/><rect x="474.98" y="394.5" width="2.0" height="13.4"/><rect x="476.58" y="389.2" width="2.0" height="5.4"/><rect x="478.18" y="373.9" width="2.0" height="15.3"/><rect x="479.77" y="366.7" width="2.0" height="7.2"/><rect x="481.37" y="352.8" width="2.0" height="13.9"/><rect x="487.76" y="489.9" width="2.0" height="10.7"/><rect x="489.36" y="482.3" width="2.0" height="7.6"/><rect x="490.96" y="440.9" width="2.0" height="41.4"/><rect x="492.55" y="440.3" width="2.0" height="1.0"/><rect x="494.15" y="420.7" width="2.0" height="19.6"/><rect x="495.75" y="412.1" width="2.0" height="8.7"/><rect x="498.95" y="414.6" width="2.0" height="6.6"/><rect x="500.54" y="398.0" width="2.0" height="16.5"/><rect x="502.14" y="393.4" width="2.0" height="4.7"/><rect x="508.53" y="431.3" width="2.0" height="10.9"/><rect x="510.13" y="422.5" width="2.0" height="8.7"/><rect x="511.73" y="418.7" width="2.0" height="3.8"/><rect x="526.10" y="493.8" width="2.0" height="5.9"/><rect x="529.30" y="489.1" width="2.0" height="6.2"/><rect x="532.49" y="496.0" width="2.0" height="8.9"/><rect x="535.69" y="499.8" width="2.0" height="8.4"/><rect x="540.48" y="503.4" width="2.0" height="8.6"/><rect x="543.67" y="522.9" width="2.0" height="6.0"/><rect x="550.07" y="539.0" width="2.0" height="9.4"/><rect x="556.46" y="559.8" width="2.0" height="1.0"/><rect x="561.25" y="566.7" width="2.0" height="4.5"/><rect x="562.85" y="555.3" width="2.0" height="11.5"/><rect x="564.44" y="549.4" width="2.0" height="5.8"/><rect x="566.04" y="548.1" width="2.0" height="1.3"/><rect x="567.64" y="547.5" width="2.0" height="1.0"/><rect x="570.83" y="551.8" width="2.0" height="3.7"/><rect x="572.43" y="540.1" width="2.0" height="11.7"/><rect x="574.03" y="535.8" width="2.0" height="4.3"/><rect x="575.62" y="510.6" width="2.0" height="25.1"/><rect x="578.82" y="509.5" width="2.0" height="8.0"/><rect x="580.42" y="506.3" width="2.0" height="3.2"/><rect x="582.01" y="501.8" width="2.0" height="4.5"/><rect x="590.00" y="513.8" width="2.0" height="1.5"/><rect x="591.60" y="510.6" width="2.0" height="3.2"/><rect x="594.79" y="506.5" width="2.0" height="8.1"/><rect x="596.39" y="488.1" width="2.0" height="18.3"/><rect x="597.99" y="470.5" width="2.0" height="17.6"/><rect x="599.59" y="455.8" width="2.0" height="14.8"/><rect x="601.18" y="440.8" width="2.0" height="15.0"/><rect x="602.78" y="428.9" width="2.0" height="11.9"/><rect x="604.38" y="420.8" width="2.0" height="8.1"/><rect x="618.76" y="523.2" width="2.0" height="4.7"/><rect x="623.55" y="538.9" width="2.0" height="3.4"/><rect x="626.75" y="552.9" width="2.0" height="4.2"/><rect x="636.33" y="609.7" width="2.0" height="5.6"/><rect x="637.93" y="608.6" width="2.0" height="1.1"/><rect x="639.52" y="598.5" width="2.0" height="10.1"/><rect x="641.12" y="590.4" width="2.0" height="8.2"/><rect x="642.72" y="586.5" width="2.0" height="3.9"/><rect x="644.32" y="577.8" width="2.0" height="8.7"/><rect x="650.71" y="609.0" width="2.0" height="1.0"/><rect x="657.10" y="632.9" width="2.0" height="8.3"/><rect x="658.69" y="619.3" width="2.0" height="13.7"/><rect x="661.89" y="609.2" width="2.0" height="12.1"/><rect x="668.28" y="651.3" width="2.0" height="4.1"/><rect x="674.67" y="668.9" width="2.0" height="14.4"/><rect x="682.66" y="706.4" width="2.0" height="5.5"/><rect x="684.25" y="694.6" width="2.0" height="11.8"/><rect x="692.24" y="733.9" width="2.0" height="2.1"/><rect x="705.02" y="790.2" width="2.0" height="20.4"/><rect x="706.62" y="782.2" width="2.0" height="8.0"/><rect x="708.22" y="761.0" width="2.0" height="21.2"/><rect x="711.41" y="712.7" width="2.0" height="49.7"/><rect x="713.01" y="685.9" width="2.0" height="26.9"/><rect x="714.61" y="673.7" width="2.0" height="12.1"/><rect x="716.21" y="665.0" width="2.0" height="8.8"/><rect x="717.80" y="653.9" width="2.0" height="11.1"/><rect x="724.19" y="678.3" width="2.0" height="27.6"/><rect x="725.79" y="673.4" width="2.0" height="5.0"/><rect x="727.39" y="653.3" width="2.0" height="20.1"/><rect x="730.58" y="649.9" width="2.0" height="13.3"/><rect x="732.18" y="637.0" width="2.0" height="12.9"/><rect x="735.38" y="641.6" width="2.0" height="6.3"/><rect x="736.97" y="626.3" width="2.0" height="15.3"/><rect x="738.57" y="624.9" width="2.0" height="1.4"/><rect x="749.75" y="675.6" width="2.0" height="1.0"/><rect x="751.35" y="671.9" width="2.0" height="3.7"/><rect x="752.95" y="661.1" width="2.0" height="10.8"/><rect x="754.54" y="658.5" width="2.0" height="2.6"/><rect x="759.34" y="668.7" width="2.0" height="1.0"/><rect x="762.53" y="666.4" width="2.0" height="3.0"/><rect x="764.13" y="666.2" width="2.0" height="1.0"/><rect x="765.73" y="639.0" width="2.0" height="27.2"/><rect x="767.32" y="629.7" width="2.0" height="9.2"/><rect x="768.92" y="622.8" width="2.0" height="7.0"/><rect x="770.52" y="615.9" width="2.0" height="6.9"/><rect x="772.12" y="612.1" width="2.0" height="3.8"/><rect x="778.51" y="616.4" width="2.0" height="9.6"/><rect x="780.11" y="608.5" width="2.0" height="8.0"/><rect x="781.70" y="597.5" width="2.0" height="11.0"/><rect x="783.30" y="593.0" width="2.0" height="4.5"/><rect x="784.90" y="587.6" width="2.0" height="5.4"/><rect x="789.69" y="597.6" width="2.0" height="4.6"/><rect x="797.68" y="642.4" width="2.0" height="3.0"/><rect x="800.87" y="643.6" width="2.0" height="2.7"/><rect x="802.47" y="638.7" width="2.0" height="4.9"/><rect x="804.07" y="633.2" width="2.0" height="5.5"/><rect x="807.26" y="632.6" width="2.0" height="2.3"/><rect x="816.85" y="656.0" width="2.0" height="1.0"/><rect x="821.64" y="656.0" width="2.0" height="6.5"/><rect x="823.24" y="655.2" width="2.0" height="1.0"/><rect x="824.84" y="649.1" width="2.0" height="6.1"/><rect x="829.63" y="650.5" width="2.0" height="21.1"/><rect x="832.82" y="634.0" width="2.0" height="18.4"/><rect x="834.42" y="632.8" width="2.0" height="1.2"/><rect x="836.02" y="625.0" width="2.0" height="7.8"/><rect x="844.00" y="649.1" width="2.0" height="1.0"/><rect x="845.60" y="648.8" width="2.0" height="1.0"/><rect x="847.20" y="637.5" width="2.0" height="11.3"/><rect x="848.80" y="634.6" width="2.0" height="2.8"/><rect x="850.39" y="622.0" width="2.0" height="12.6"/><rect x="851.99" y="607.8" width="2.0" height="14.2"/><rect x="858.38" y="644.3" width="2.0" height="3.9"/><rect x="859.98" y="634.3" width="2.0" height="10.0"/><rect x="861.58" y="627.3" width="2.0" height="7.0"/><rect x="863.17" y="614.9" width="2.0" height="12.4"/><rect x="867.97" y="644.6" width="2.0" height="1.2"/><rect x="872.76" y="649.2" width="2.0" height="6.1"/><rect x="874.36" y="645.6" width="2.0" height="3.6"/><rect x="875.95" y="638.5" width="2.0" height="7.1"/><rect x="883.94" y="669.4" width="2.0" height="1.0"/><rect x="887.14" y="676.7" width="2.0" height="4.7"/><rect x="888.74" y="672.4" width="2.0" height="4.4"/><rect x="890.33" y="658.0" width="2.0" height="14.4"/><rect x="901.51" y="683.1" width="2.0" height="5.8"/><rect x="903.11" y="680.4" width="2.0" height="2.7"/><rect x="904.71" y="679.2" width="2.0" height="1.2"/><rect x="906.31" y="672.4" width="2.0" height="6.8"/><rect x="907.90" y="670.3" width="2.0" height="2.1"/><rect x="911.10" y="672.8" width="2.0" height="14.7"/><rect x="914.29" y="681.7" width="2.0" height="6.9"/><rect x="917.49" y="691.0" width="2.0" height="4.1"/><rect x="920.68" y="696.9" width="2.0" height="8.9"/><rect x="922.28" y="685.8" width="2.0" height="11.2"/><rect x="928.67" y="693.2" width="2.0" height="9.1"/><rect x="931.87" y="692.6" width="2.0" height="8.1"/><rect x="933.46" y="685.6" width="2.0" height="7.0"/><rect x="935.06" y="678.9" width="2.0" height="6.7"/><rect x="938.26" y="675.1" width="2.0" height="6.4"/><rect x="941.45" y="683.0" width="2.0" height="2.2"/><rect x="944.65" y="682.5" width="2.0" height="2.2"/><rect x="946.25" y="682.3" width="2.0" height="1.0"/><rect x="949.44" y="674.4" width="2.0" height="8.5"/><rect x="952.63" y="671.7" width="2.0" height="11.8"/><rect x="954.23" y="669.2" width="2.0" height="2.5"/><rect x="955.83" y="664.3" width="2.0" height="4.9"/><rect x="957.43" y="659.9" width="2.0" height="4.4"/><rect x="959.02" y="652.5" width="2.0" height="7.4"/><rect x="960.62" y="649.3" width="2.0" height="3.1"/><rect x="962.22" y="642.2" width="2.0" height="7.2"/><rect x="963.82" y="632.9" width="2.0" height="9.3"/><rect x="965.41" y="621.9" width="2.0" height="11.0"/><rect x="967.01" y="612.9" width="2.0" height="9.0"/><rect x="973.40" y="604.9" width="2.0" height="26.5"/><rect x="976.60" y="611.3" width="2.0" height="8.6"/><rect x="978.19" y="608.0" width="2.0" height="3.3"/><rect x="979.79" y="606.5" width="2.0" height="1.5"/><rect x="982.99" y="601.8" width="2.0" height="4.7"/><rect x="984.59" y="587.3" width="2.0" height="14.5"/><rect x="986.18" y="580.6" width="2.0" height="6.7"/><rect x="987.78" y="563.5" width="2.0" height="17.1"/><rect x="990.97" y="702.5" width="2.0" height="14.5"/><rect x="992.57" y="676.3" width="2.0" height="26.2"/><rect x="994.17" y="662.4" width="2.0" height="13.9"/><rect x="995.77" y="656.2" width="2.0" height="6.2"/><rect x="997.37" y="638.1" width="2.0" height="18.1"/><rect x="1000.56" y="622.8" width="2.0" height="17.7"/><rect x="1002.16" y="599.1" width="2.0" height="23.6"/><rect x="1003.75" y="583.2" width="2.0" height="16.0"/><rect x="1010.14" y="611.0" width="2.0" height="1.0"/><rect x="1019.73" y="648.2" width="2.0" height="3.2"/><rect x="1021.33" y="638.9" width="2.0" height="9.3"/><rect x="1027.72" y="641.8" width="2.0" height="15.2"/><rect x="1029.32" y="637.9" width="2.0" height="3.8"/><rect x="1030.91" y="617.0" width="2.0" height="20.9"/><rect x="1032.51" y="616.1" width="2.0" height="1.0"/><rect x="1034.11" y="603.6" width="2.0" height="12.5"/><rect x="1035.70" y="596.0" width="2.0" height="7.5"/><rect x="1043.69" y="603.6" width="2.0" height="17.5"/><rect x="1046.89" y="605.4" width="2.0" height="4.2"/><rect x="1048.48" y="602.0" width="2.0" height="3.4"/><rect x="1053.28" y="605.4" width="2.0" height="15.3"/><rect x="1054.88" y="592.4" width="2.0" height="13.0"/><rect x="1056.47" y="576.6" width="2.0" height="15.8"/><rect x="1058.07" y="568.6" width="2.0" height="8.0"/><rect x="1059.67" y="564.9" width="2.0" height="3.8"/><rect x="1061.26" y="555.7" width="2.0" height="9.2"/><rect x="1067.65" y="584.6" width="2.0" height="7.4"/><rect x="1070.85" y="580.6" width="2.0" height="4.2"/><rect x="1072.45" y="570.2" width="2.0" height="10.5"/><rect x="1074.05" y="556.6" width="2.0" height="13.6"/><rect x="1080.43" y="590.3" width="2.0" height="8.3"/><rect x="1083.63" y="584.0" width="2.0" height="8.7"/><rect x="1093.21" y="618.3" width="2.0" height="3.6"/><rect x="1094.81" y="606.3" width="2.0" height="12.1"/><rect x="1098.01" y="594.3" width="2.0" height="16.9"/><rect x="1101.20" y="590.9" width="2.0" height="7.1"/><rect x="1102.80" y="585.9" width="2.0" height="5.0"/><rect x="1104.40" y="584.9" width="2.0" height="1.0"/><rect x="1110.79" y="608.2" width="2.0" height="2.4"/><rect x="1112.38" y="594.7" width="2.0" height="13.5"/><rect x="1115.58" y="592.3" width="2.0" height="6.0"/><rect x="1123.57" y="612.3" width="2.0" height="1.0"/><rect x="1125.16" y="601.0" width="2.0" height="11.3"/><rect x="1126.76" y="600.2" width="2.0" height="1.0"/><rect x="1129.96" y="601.2" width="2.0" height="3.2"/><rect x="1131.55" y="600.2" width="2.0" height="1.0"/><rect x="1133.15" y="594.9" width="2.0" height="5.3"/><rect x="1136.35" y="586.4" width="2.0" height="9.4"/><rect x="1137.94" y="586.0" width="2.0" height="1.0"/><rect x="1142.74" y="590.7" width="2.0" height="16.6"/><rect x="1144.34" y="563.1" width="2.0" height="27.6"/><rect x="1147.53" y="553.5" width="2.0" height="26.8"/><rect x="1150.72" y="554.3" width="2.0" height="8.0"/><rect x="1153.92" y="549.3" width="2.0" height="8.6"/><rect x="1163.51" y="575.6" width="2.0" height="11.8"/><rect x="1166.70" y="574.4" width="2.0" height="1.6"/><rect x="1168.30" y="570.7" width="2.0" height="3.7"/><rect x="1171.49" y="575.9" width="2.0" height="1.7"/><rect x="1174.69" y="575.3" width="2.0" height="8.1"/><rect x="1177.88" y="571.3" width="2.0" height="9.3"/><rect x="1182.67" y="579.6" width="2.0" height="8.8"/><rect x="1192.26" y="605.3" width="2.0" height="3.5"/><rect x="1198.65" y="624.6" width="2.0" height="1.0"/><rect x="1201.85" y="621.5" width="2.0" height="5.0"/><rect x="1203.44" y="609.8" width="2.0" height="11.7"/><rect x="1205.04" y="607.2" width="2.0" height="2.6"/><rect x="1208.23" y="616.4" width="2.0" height="4.6"/><rect x="1213.03" y="615.3" width="2.0" height="14.6"/><rect x="1214.62" y="601.7" width="2.0" height="13.6"/><rect x="1217.82" y="598.3" width="2.0" height="17.3"/><rect x="1221.01" y="594.6" width="2.0" height="9.9"/><rect x="1222.61" y="583.1" width="2.0" height="11.5"/><rect x="1224.21" y="577.1" width="2.0" height="6.0"/><rect x="1227.40" y="587.2" width="2.0" height="4.6"/><rect x="1230.60" y="592.8" width="2.0" height="3.3"/><rect x="1232.20" y="588.4" width="2.0" height="4.4"/><rect x="1235.39" y="593.2" width="2.0" height="1.9"/><rect x="1238.59" y="595.8" width="2.0" height="6.8"/><rect x="1244.98" y="637.7" width="2.0" height="8.7"/><rect x="1249.77" y="632.6" width="2.0" height="13.9"/><rect x="1252.96" y="634.5" width="2.0" height="1.0"/><rect x="1254.56" y="625.9" width="2.0" height="8.6"/><rect x="1257.76" y="617.8" width="2.0" height="15.6"/><rect x="1260.95" y="604.8" width="2.0" height="17.1"/><rect x="1262.55" y="596.1" width="2.0" height="8.7"/><rect x="1264.15" y="587.5" width="2.0" height="8.5"/><rect x="1265.74" y="584.5" width="2.0" height="3.0"/><rect x="1267.34" y="576.6" width="2.0" height="8.0"/><rect x="1272.13" y="585.8" width="2.0" height="4.7"/><rect x="1275.33" y="588.2" width="2.0" height="4.6"/><rect x="1276.93" y="582.6" width="2.0" height="5.5"/><rect x="1280.12" y="575.2" width="2.0" height="7.9"/><rect x="1283.32" y="574.4" width="2.0" height="11.5"/><rect x="1286.51" y="580.5" width="2.0" height="3.6"/><rect x="1296.10" y="613.9" width="2.0" height="3.0"/><rect x="1297.69" y="596.5" width="2.0" height="17.4"/><rect x="1299.29" y="592.5" width="2.0" height="4.0"/><rect x="1300.89" y="591.5" width="2.0" height="1.1"/><rect x="1302.49" y="583.0" width="2.0" height="8.5"/><rect x="1304.09" y="574.0" width="2.0" height="9.0"/><rect x="1307.28" y="575.6" width="2.0" height="10.2"/><rect x="1308.88" y="569.2" width="2.0" height="6.3"/><rect x="1312.07" y="579.9" width="2.0" height="1.2"/><rect x="1315.27" y="585.2" width="2.0" height="1.7"/><rect x="1323.25" y="585.4" width="2.0" height="9.0"/><rect x="1324.85" y="583.6" width="2.0" height="1.8"/><rect x="1326.45" y="582.8" width="2.0" height="1.0"/><rect x="1328.05" y="569.7" width="2.0" height="13.1"/><rect x="1331.24" y="572.7" width="2.0" height="6.8"/><rect x="1334.44" y="570.7" width="2.0" height="4.7"/><rect x="1340.83" y="578.9" width="2.0" height="1.3"/><rect x="1342.42" y="573.9" width="2.0" height="5.0"/><rect x="1344.02" y="567.9" width="2.0" height="6.0"/><rect x="1345.62" y="565.1" width="2.0" height="2.7"/><rect x="1347.22" y="562.6" width="2.0" height="2.6"/><rect x="1348.82" y="558.1" width="2.0" height="4.5"/><rect x="1352.01" y="557.4" width="2.0" height="9.5"/><rect x="1355.20" y="575.5" width="2.0" height="15.1"/><rect x="1360.00" y="591.0" width="2.0" height="4.5"/><rect x="1363.19" y="588.5" width="2.0" height="4.6"/><rect x="1364.79" y="587.3" width="2.0" height="1.2"/><rect x="1367.98" y="589.1" width="2.0" height="3.1"/><rect x="1369.58" y="589.0" width="2.0" height="1.0"/><rect x="1372.78" y="594.3" width="2.0" height="11.0"/><rect x="1375.97" y="590.5" width="2.0" height="4.7"/><rect x="1379.17" y="583.0" width="2.0" height="11.4"/><rect x="1382.36" y="582.6" width="2.0" height="6.2"/><rect x="1385.56" y="584.0" width="2.0" height="6.7"/><rect x="1390.35" y="585.4" width="2.0" height="8.2"/><rect x="1391.95" y="584.3" width="2.0" height="1.1"/><rect x="1393.54" y="577.2" width="2.0" height="7.1"/><rect x="1406.33" y="601.8" width="2.0" height="9.4"/><rect x="1411.12" y="605.9" width="2.0" height="6.5"/><rect x="1412.71" y="600.5" width="2.0" height="5.4"/><rect x="1415.91" y="596.0" width="2.0" height="18.0"/><rect x="1420.70" y="625.0" width="2.0" height="21.0"/><rect x="1422.30" y="592.6" width="2.0" height="31.6"/></g>
<g fill="#b0432e" stroke="#4a2a22" stroke-width="0.6"><rect x="5.32" y="176.9" width="2.0" height="23.6"/><rect x="6.91" y="200.5" width="2.0" height="1.5"/><rect x="11.71" y="190.0" width="2.0" height="9.7"/><rect x="13.31" y="199.7" width="2.0" height="22.6"/><rect x="14.90" y="222.3" width="2.0" height="16.2"/><rect x="16.50" y="238.5" width="2.0" height="29.9"/><rect x="18.10" y="268.4" width="2.0" height="20.8"/><rect x="24.49" y="257.5" width="2.0" height="4.5"/><rect x="32.48" y="204.6" width="2.0" height="11.1"/><rect x="34.07" y="215.7" width="2.0" height="13.3"/><rect x="42.06" y="164.5" width="2.0" height="16.4"/><rect x="43.66" y="180.9" width="2.0" height="8.5"/><rect x="45.26" y="189.4" width="2.0" height="6.3"/><rect x="46.85" y="195.8" width="2.0" height="23.0"/><rect x="48.45" y="218.8" width="2.0" height="5.8"/><rect x="50.05" y="224.6" width="2.0" height="26.2"/><rect x="51.64" y="250.8" width="2.0" height="1.3"/><rect x="53.24" y="252.1" width="2.0" height="10.7"/><rect x="58.04" y="224.6" width="2.0" height="4.9"/><rect x="59.63" y="229.4" width="2.0" height="17.9"/><rect x="61.23" y="247.3" width="2.0" height="14.3"/><rect x="62.83" y="261.6" width="2.0" height="13.6"/><rect x="64.42" y="275.2" width="2.0" height="18.2"/><rect x="66.02" y="293.4" width="2.0" height="23.1"/><rect x="67.62" y="316.5" width="2.0" height="3.0"/><rect x="69.22" y="319.5" width="2.0" height="26.8"/><rect x="70.82" y="346.3" width="2.0" height="7.8"/><rect x="75.61" y="313.2" width="2.0" height="18.0"/><rect x="77.20" y="331.1" width="2.0" height="4.9"/><rect x="83.60" y="308.1" width="2.0" height="3.4"/><rect x="88.39" y="293.5" width="2.0" height="8.1"/><rect x="97.97" y="264.9" width="2.0" height="5.6"/><rect x="99.57" y="270.6" width="2.0" height="22.3"/><rect x="101.17" y="292.9" width="2.0" height="3.2"/><rect x="102.77" y="296.1" width="2.0" height="21.8"/><rect x="104.36" y="317.9" width="2.0" height="9.0"/><rect x="109.15" y="322.2" width="2.0" height="14.0"/><rect x="110.75" y="336.2" width="2.0" height="2.0"/><rect x="112.35" y="338.2" width="2.0" height="17.8"/><rect x="121.93" y="293.5" width="2.0" height="9.9"/><rect x="125.13" y="294.2" width="2.0" height="7.0"/><rect x="126.73" y="301.2" width="2.0" height="14.8"/><rect x="128.33" y="316.0" width="2.0" height="4.7"/><rect x="131.52" y="317.9" width="2.0" height="9.2"/><rect x="133.12" y="327.1" width="2.0" height="9.2"/><rect x="134.71" y="336.3" width="2.0" height="14.2"/><rect x="136.31" y="350.5" width="2.0" height="4.2"/><rect x="137.91" y="354.7" width="2.0" height="14.7"/><rect x="139.51" y="369.4" width="2.0" height="12.8"/><rect x="141.11" y="382.2" width="2.0" height="8.3"/><rect x="142.70" y="390.5" width="2.0" height="36.0"/><rect x="144.30" y="426.5" width="2.0" height="5.8"/><rect x="145.90" y="432.2" width="2.0" height="15.6"/><rect x="149.09" y="426.3" width="2.0" height="2.4"/><rect x="150.69" y="428.7" width="2.0" height="5.8"/><rect x="158.68" y="388.1" width="2.0" height="15.8"/><rect x="163.47" y="369.5" width="2.0" height="11.9"/><rect x="165.07" y="381.4" width="2.0" height="16.7"/><rect x="166.66" y="398.2" width="2.0" height="11.5"/><rect x="168.26" y="409.6" width="2.0" height="15.5"/><rect x="177.85" y="377.3" width="2.0" height="14.3"/><rect x="179.44" y="391.6" width="2.0" height="1.4"/><rect x="192.22" y="305.5" width="2.0" height="6.7"/><rect x="195.42" y="280.8" width="2.0" height="5.6"/><rect x="198.62" y="281.9" width="2.0" height="13.8"/><rect x="200.21" y="295.7" width="2.0" height="10.8"/><rect x="201.81" y="306.5" width="2.0" height="9.0"/><rect x="203.41" y="315.5" width="2.0" height="9.3"/><rect x="205.01" y="324.8" width="2.0" height="8.8"/><rect x="206.60" y="333.6" width="2.0" height="9.1"/><rect x="208.20" y="342.6" width="2.0" height="2.3"/><rect x="217.79" y="292.3" width="2.0" height="7.4"/><rect x="228.97" y="262.3" width="2.0" height="11.3"/><rect x="230.57" y="273.6" width="2.0" height="11.8"/><rect x="233.76" y="270.5" width="2.0" height="25.3"/><rect x="235.36" y="295.7" width="2.0" height="7.1"/><rect x="236.95" y="302.9" width="2.0" height="2.5"/><rect x="241.75" y="297.1" width="2.0" height="1.0"/><rect x="246.54" y="273.6" width="2.0" height="8.0"/><rect x="251.33" y="262.2" width="2.0" height="4.5"/><rect x="252.93" y="266.7" width="2.0" height="4.8"/><rect x="254.53" y="271.5" width="2.0" height="7.0"/><rect x="257.72" y="270.9" width="2.0" height="22.5"/><rect x="259.32" y="293.4" width="2.0" height="5.4"/><rect x="260.92" y="298.8" width="2.0" height="1.0"/><rect x="262.52" y="299.4" width="2.0" height="24.7"/><rect x="264.11" y="324.1" width="2.0" height="15.8"/><rect x="265.71" y="339.9" width="2.0" height="21.2"/><rect x="267.31" y="361.1" width="2.0" height="17.7"/><rect x="270.50" y="361.0" width="2.0" height="4.4"/><rect x="273.70" y="352.9" width="2.0" height="1.6"/><rect x="278.49" y="333.7" width="2.0" height="15.1"/><rect x="281.68" y="335.2" width="2.0" height="17.7"/><rect x="284.88" y="345.5" width="2.0" height="6.3"/><rect x="289.67" y="340.6" width="2.0" height="1.7"/><rect x="296.06" y="330.9" width="2.0" height="4.3"/><rect x="304.05" y="303.7" width="2.0" height="24.8"/><rect x="307.25" y="320.3" width="2.0" height="17.4"/><rect x="308.84" y="337.6" width="2.0" height="14.7"/><rect x="310.44" y="352.4" width="2.0" height="14.2"/><rect x="312.04" y="366.5" width="2.0" height="16.2"/><rect x="316.83" y="362.5" width="2.0" height="1.0"/><rect x="323.22" y="335.2" width="2.0" height="9.6"/><rect x="326.41" y="330.6" width="2.0" height="1.0"/><rect x="329.61" y="325.3" width="2.0" height="13.3"/><rect x="332.81" y="334.7" width="2.0" height="21.5"/><rect x="334.40" y="356.2" width="2.0" height="4.9"/><rect x="337.60" y="360.2" width="2.0" height="11.3"/><rect x="343.99" y="358.3" width="2.0" height="15.7"/><rect x="355.17" y="335.0" width="2.0" height="5.7"/><rect x="358.37" y="339.0" width="2.0" height="12.8"/><rect x="359.96" y="351.8" width="2.0" height="1.0"/><rect x="361.56" y="352.7" width="2.0" height="10.6"/><rect x="363.16" y="363.4" width="2.0" height="15.1"/><rect x="366.35" y="377.2" width="2.0" height="8.9"/><rect x="367.95" y="386.1" width="2.0" height="2.3"/><rect x="372.74" y="370.8" width="2.0" height="5.1"/><rect x="375.94" y="369.8" width="2.0" height="21.0"/><rect x="379.13" y="386.1" width="2.0" height="10.8"/><rect x="380.73" y="396.9" width="2.0" height="11.8"/><rect x="382.33" y="408.6" width="2.0" height="1.0"/><rect x="385.52" y="402.0" width="2.0" height="7.5"/><rect x="387.12" y="409.5" width="2.0" height="14.2"/><rect x="388.72" y="423.7" width="2.0" height="29.3"/><rect x="390.32" y="453.0" width="2.0" height="8.3"/><rect x="391.91" y="461.3" width="2.0" height="8.0"/><rect x="398.30" y="422.9" width="2.0" height="6.1"/><rect x="401.50" y="419.8" width="2.0" height="12.2"/><rect x="403.10" y="432.0" width="2.0" height="6.8"/><rect x="404.69" y="438.8" width="2.0" height="32.0"/><rect x="407.89" y="470.5" width="2.0" height="8.4"/><rect x="411.08" y="475.6" width="2.0" height="7.2"/><rect x="412.68" y="482.8" width="2.0" height="8.0"/><rect x="415.88" y="484.8" width="2.0" height="18.3"/><rect x="417.47" y="503.1" width="2.0" height="44.1"/><rect x="419.07" y="547.2" width="2.0" height="15.3"/><rect x="420.67" y="562.5" width="2.0" height="6.3"/><rect x="422.26" y="568.8" width="2.0" height="7.8"/><rect x="427.06" y="552.1" width="2.0" height="3.3"/><rect x="433.45" y="532.1" width="2.0" height="9.1"/><rect x="435.04" y="541.2" width="2.0" height="1.0"/><rect x="436.64" y="541.5" width="2.0" height="1.0"/><rect x="439.84" y="538.3" width="2.0" height="2.4"/><rect x="441.44" y="540.7" width="2.0" height="2.4"/><rect x="444.63" y="541.5" width="2.0" height="6.3"/><rect x="446.23" y="547.8" width="2.0" height="4.8"/><rect x="455.81" y="465.8" width="2.0" height="15.8"/><rect x="460.61" y="453.1" width="2.0" height="7.2"/><rect x="462.20" y="460.3" width="2.0" height="14.7"/><rect x="482.97" y="352.8" width="2.0" height="7.0"/><rect x="484.57" y="359.8" width="2.0" height="114.0"/><rect x="486.16" y="473.9" width="2.0" height="26.8"/><rect x="497.35" y="412.1" width="2.0" height="9.2"/><rect x="503.74" y="393.4" width="2.0" height="23.2"/><rect x="505.34" y="416.6" width="2.0" height="18.4"/><rect x="506.93" y="435.0" width="2.0" height="7.1"/><rect x="513.32" y="418.7" width="2.0" height="10.9"/><rect x="514.92" y="429.6" width="2.0" height="6.0"/><rect x="516.52" y="435.6" width="2.0" height="16.5"/><rect x="518.12" y="452.1" width="2.0" height="14.8"/><rect x="519.71" y="466.8" width="2.0" height="5.1"/><rect x="521.31" y="472.0" width="2.0" height="9.4"/><rect x="522.91" y="481.3" width="2.0" height="12.3"/><rect x="524.50" y="493.6" width="2.0" height="6.1"/><rect x="527.70" y="493.8" width="2.0" height="1.6"/><rect x="530.89" y="489.1" width="2.0" height="15.8"/><rect x="534.09" y="496.0" width="2.0" height="12.2"/><rect x="537.28" y="499.8" width="2.0" height="6.5"/><rect x="538.88" y="506.3" width="2.0" height="5.7"/><rect x="542.08" y="503.4" width="2.0" height="25.6"/><rect x="545.27" y="522.9" width="2.0" height="7.0"/><rect x="546.87" y="530.0" width="2.0" height="15.2"/><rect x="548.47" y="545.1" width="2.0" height="3.3"/><rect x="551.66" y="539.0" width="2.0" height="13.9"/><rect x="553.26" y="552.9" width="2.0" height="3.9"/><rect x="554.86" y="556.8" width="2.0" height="3.3"/><rect x="558.05" y="559.8" width="2.0" height="1.0"/><rect x="559.65" y="560.3" width="2.0" height="10.9"/><rect x="569.24" y="547.5" width="2.0" height="8.0"/><rect x="577.22" y="510.6" width="2.0" height="6.9"/><rect x="583.61" y="501.8" width="2.0" height="6.6"/><rect x="585.21" y="508.4" width="2.0" height="2.4"/><rect x="586.81" y="510.8" width="2.0" height="1.9"/><rect x="588.40" y="512.7" width="2.0" height="2.6"/><rect x="593.20" y="510.6" width="2.0" height="4.0"/><rect x="605.98" y="420.8" width="2.0" height="13.8"/><rect x="607.58" y="434.7" width="2.0" height="10.8"/><rect x="609.17" y="445.5" width="2.0" height="16.6"/><rect x="610.77" y="462.1" width="2.0" height="34.0"/><rect x="612.37" y="496.1" width="2.0" height="10.5"/><rect x="613.97" y="506.6" width="2.0" height="7.7"/><rect x="615.56" y="514.3" width="2.0" height="5.9"/><rect x="617.16" y="520.1" width="2.0" height="7.8"/><rect x="620.36" y="523.2" width="2.0" height="3.6"/><rect x="621.95" y="526.8" width="2.0" height="15.4"/><rect x="625.15" y="538.9" width="2.0" height="18.3"/><rect x="628.34" y="552.9" width="2.0" height="9.0"/><rect x="629.94" y="561.9" width="2.0" height="20.7"/><rect x="631.54" y="582.5" width="2.0" height="22.6"/><rect x="633.13" y="605.2" width="2.0" height="4.3"/><rect x="634.73" y="609.4" width="2.0" height="5.8"/><rect x="645.91" y="577.8" width="2.0" height="8.3"/><rect x="647.51" y="586.2" width="2.0" height="11.8"/><rect x="649.11" y="597.9" width="2.0" height="11.9"/><rect x="652.30" y="609.0" width="2.0" height="14.5"/><rect x="653.90" y="623.5" width="2.0" height="5.9"/><rect x="655.50" y="629.3" width="2.0" height="11.8"/><rect x="660.29" y="619.3" width="2.0" height="2.0"/><rect x="663.49" y="609.2" width="2.0" height="2.5"/><rect x="665.09" y="611.7" width="2.0" height="11.7"/><rect x="666.68" y="623.4" width="2.0" height="32.0"/><rect x="669.88" y="651.3" width="2.0" height="7.2"/><rect x="671.48" y="658.4" width="2.0" height="8.9"/><rect x="673.07" y="667.3" width="2.0" height="16.0"/><rect x="676.27" y="668.9" width="2.0" height="20.3"/><rect x="677.87" y="689.2" width="2.0" height="4.9"/><rect x="679.46" y="694.1" width="2.0" height="9.1"/><rect x="681.06" y="703.1" width="2.0" height="8.8"/><rect x="685.85" y="694.6" width="2.0" height="6.7"/><rect x="687.45" y="701.3" width="2.0" height="14.5"/><rect x="689.05" y="715.7" width="2.0" height="13.8"/><rect x="690.64" y="729.5" width="2.0" height="6.4"/><rect x="693.84" y="733.9" width="2.0" height="1.6"/><rect x="695.44" y="735.5" width="2.0" height="4.3"/><rect x="697.03" y="739.8" width="2.0" height="4.3"/><rect x="698.63" y="744.2" width="2.0" height="10.4"/><rect x="700.23" y="754.6" width="2.0" height="17.0"/><rect x="701.83" y="771.6" width="2.0" height="37.0"/><rect x="703.42" y="808.6" width="2.0" height="2.0"/><rect x="709.81" y="761.0" width="2.0" height="1.4"/><rect x="719.40" y="653.9" width="2.0" height="28.0"/><rect x="721.00" y="681.9" width="2.0" height="12.8"/><rect x="722.60" y="694.7" width="2.0" height="11.3"/><rect x="728.99" y="653.3" width="2.0" height="9.9"/><rect x="733.78" y="637.0" width="2.0" height="10.9"/><rect x="740.17" y="624.9" width="2.0" height="5.3"/><rect x="741.76" y="630.2" width="2.0" height="9.7"/><rect x="743.36" y="639.9" width="2.0" height="5.3"/><rect x="744.96" y="645.2" width="2.0" height="17.1"/><rect x="746.56" y="662.3" width="2.0" height="4.4"/><rect x="748.15" y="666.7" width="2.0" height="9.0"/><rect x="756.14" y="658.5" width="2.0" height="9.7"/><rect x="757.74" y="668.3" width="2.0" height="1.1"/><rect x="760.93" y="668.7" width="2.0" height="1.0"/><rect x="773.72" y="612.1" width="2.0" height="6.4"/><rect x="775.31" y="618.5" width="2.0" height="4.2"/><rect x="776.91" y="622.7" width="2.0" height="3.3"/><rect x="786.50" y="587.6" width="2.0" height="14.3"/><rect x="788.09" y="601.9" width="2.0" height="1.0"/><rect x="791.29" y="597.6" width="2.0" height="20.1"/><rect x="792.88" y="617.7" width="2.0" height="5.4"/><rect x="794.48" y="623.1" width="2.0" height="7.7"/><rect x="796.08" y="630.7" width="2.0" height="14.7"/><rect x="799.27" y="642.4" width="2.0" height="3.8"/><rect x="805.66" y="633.2" width="2.0" height="1.7"/><rect x="808.86" y="632.6" width="2.0" height="8.4"/><rect x="810.46" y="641.0" width="2.0" height="1.9"/><rect x="812.05" y="642.9" width="2.0" height="1.4"/><rect x="813.65" y="644.3" width="2.0" height="2.3"/><rect x="815.25" y="646.6" width="2.0" height="9.4"/><rect x="818.44" y="656.0" width="2.0" height="5.1"/><rect x="820.04" y="661.2" width="2.0" height="1.4"/><rect x="826.43" y="649.1" width="2.0" height="6.6"/><rect x="828.03" y="655.7" width="2.0" height="15.8"/><rect x="831.23" y="650.5" width="2.0" height="1.8"/><rect x="837.62" y="625.0" width="2.0" height="7.4"/><rect x="839.21" y="632.4" width="2.0" height="1.4"/><rect x="840.81" y="633.8" width="2.0" height="5.8"/><rect x="842.41" y="639.6" width="2.0" height="10.4"/><rect x="853.59" y="607.8" width="2.0" height="13.9"/><rect x="855.19" y="621.7" width="2.0" height="3.2"/><rect x="856.78" y="624.9" width="2.0" height="23.4"/><rect x="864.77" y="614.9" width="2.0" height="16.5"/><rect x="866.37" y="631.4" width="2.0" height="14.5"/><rect x="869.56" y="644.6" width="2.0" height="4.8"/><rect x="871.16" y="649.4" width="2.0" height="5.8"/><rect x="877.55" y="638.5" width="2.0" height="8.0"/><rect x="879.15" y="646.5" width="2.0" height="5.5"/><rect x="880.75" y="651.9" width="2.0" height="7.9"/><rect x="882.35" y="659.9" width="2.0" height="9.7"/><rect x="885.54" y="669.4" width="2.0" height="12.0"/><rect x="891.93" y="658.0" width="2.0" height="1.7"/><rect x="893.53" y="659.7" width="2.0" height="8.1"/><rect x="895.12" y="667.8" width="2.0" height="7.6"/><rect x="896.72" y="675.3" width="2.0" height="2.5"/><rect x="898.32" y="677.9" width="2.0" height="7.3"/><rect x="899.92" y="685.1" width="2.0" height="3.7"/><rect x="909.50" y="670.3" width="2.0" height="17.2"/><rect x="912.70" y="672.8" width="2.0" height="15.8"/><rect x="915.89" y="681.7" width="2.0" height="13.4"/><rect x="919.09" y="691.0" width="2.0" height="14.8"/><rect x="923.88" y="685.8" width="2.0" height="2.4"/><rect x="925.48" y="688.2" width="2.0" height="1.0"/><rect x="927.08" y="688.8" width="2.0" height="13.4"/><rect x="930.27" y="693.2" width="2.0" height="7.4"/><rect x="936.66" y="678.9" width="2.0" height="2.6"/><rect x="939.86" y="675.1" width="2.0" height="10.1"/><rect x="943.05" y="683.0" width="2.0" height="1.7"/><rect x="947.84" y="682.3" width="2.0" height="1.0"/><rect x="951.04" y="674.4" width="2.0" height="9.0"/><rect x="968.61" y="612.9" width="2.0" height="8.6"/><rect x="970.21" y="621.5" width="2.0" height="6.2"/><rect x="971.80" y="627.7" width="2.0" height="3.7"/><rect x="975.00" y="604.9" width="2.0" height="15.0"/><rect x="981.39" y="606.5" width="2.0" height="1.0"/><rect x="989.38" y="564.0" width="2.0" height="153.0"/><rect x="998.96" y="638.1" width="2.0" height="2.4"/><rect x="1005.35" y="583.2" width="2.0" height="9.4"/><rect x="1006.95" y="592.6" width="2.0" height="15.0"/><rect x="1008.55" y="607.6" width="2.0" height="4.1"/><rect x="1011.74" y="611.0" width="2.0" height="4.6"/><rect x="1013.34" y="615.6" width="2.0" height="10.3"/><rect x="1014.94" y="625.9" width="2.0" height="10.5"/><rect x="1016.53" y="636.4" width="2.0" height="1.8"/><rect x="1018.13" y="638.2" width="2.0" height="13.3"/><rect x="1022.92" y="638.9" width="2.0" height="9.4"/><rect x="1024.52" y="648.3" width="2.0" height="1.0"/><rect x="1026.12" y="649.1" width="2.0" height="7.8"/><rect x="1037.30" y="596.0" width="2.0" height="8.6"/><rect x="1038.90" y="604.7" width="2.0" height="10.2"/><rect x="1040.50" y="614.9" width="2.0" height="4.3"/><rect x="1042.10" y="619.2" width="2.0" height="1.9"/><rect x="1045.29" y="603.6" width="2.0" height="6.1"/><rect x="1050.08" y="602.0" width="2.0" height="9.7"/><rect x="1051.68" y="611.7" width="2.0" height="9.1"/><rect x="1062.86" y="555.7" width="2.0" height="5.7"/><rect x="1064.46" y="561.3" width="2.0" height="21.1"/><rect x="1066.06" y="582.4" width="2.0" height="9.6"/><rect x="1069.25" y="584.6" width="2.0" height="1.0"/><rect x="1075.64" y="556.6" width="2.0" height="5.9"/><rect x="1077.24" y="562.4" width="2.0" height="27.3"/><rect x="1078.84" y="589.7" width="2.0" height="8.8"/><rect x="1082.03" y="590.3" width="2.0" height="2.4"/><rect x="1085.23" y="584.0" width="2.0" height="5.9"/><rect x="1086.83" y="590.0" width="2.0" height="1.4"/><rect x="1088.42" y="591.3" width="2.0" height="9.8"/><rect x="1090.02" y="601.1" width="2.0" height="6.8"/><rect x="1091.62" y="607.9" width="2.0" height="14.0"/><rect x="1096.41" y="606.3" width="2.0" height="5.0"/><rect x="1099.61" y="594.3" width="2.0" height="3.7"/><rect x="1105.99" y="584.9" width="2.0" height="12.8"/><rect x="1107.59" y="597.7" width="2.0" height="7.9"/><rect x="1109.19" y="605.7" width="2.0" height="4.9"/><rect x="1113.98" y="594.7" width="2.0" height="3.5"/><rect x="1117.18" y="592.3" width="2.0" height="1.9"/><rect x="1118.78" y="594.2" width="2.0" height="12.3"/><rect x="1120.37" y="606.4" width="2.0" height="2.1"/><rect x="1121.97" y="608.5" width="2.0" height="4.6"/><rect x="1128.36" y="600.2" width="2.0" height="4.2"/><rect x="1134.75" y="594.9" width="2.0" height="1.0"/><rect x="1139.54" y="586.0" width="2.0" height="8.0"/><rect x="1141.14" y="593.9" width="2.0" height="13.4"/><rect x="1145.93" y="563.1" width="2.0" height="17.1"/><rect x="1149.13" y="553.5" width="2.0" height="8.8"/><rect x="1152.32" y="554.3" width="2.0" height="3.5"/><rect x="1155.52" y="549.3" width="2.0" height="6.0"/><rect x="1157.12" y="555.3" width="2.0" height="18.9"/><rect x="1158.71" y="574.1" width="2.0" height="1.0"/><rect x="1160.31" y="574.9" width="2.0" height="5.8"/><rect x="1161.91" y="580.7" width="2.0" height="6.8"/><rect x="1165.10" y="575.6" width="2.0" height="1.0"/><rect x="1169.89" y="570.7" width="2.0" height="7.0"/><rect x="1173.09" y="575.9" width="2.0" height="7.5"/><rect x="1176.28" y="575.3" width="2.0" height="5.3"/><rect x="1179.48" y="571.3" width="2.0" height="16.1"/><rect x="1181.08" y="587.4" width="2.0" height="1.1"/><rect x="1184.27" y="579.6" width="2.0" height="16.3"/><rect x="1185.87" y="595.9" width="2.0" height="5.7"/><rect x="1187.47" y="601.6" width="2.0" height="2.5"/><rect x="1189.07" y="604.1" width="2.0" height="3.3"/><rect x="1190.66" y="607.4" width="2.0" height="1.4"/><rect x="1193.86" y="605.3" width="2.0" height="6.7"/><rect x="1195.45" y="612.0" width="2.0" height="2.9"/><rect x="1197.05" y="614.9" width="2.0" height="10.4"/><rect x="1200.25" y="624.6" width="2.0" height="1.9"/><rect x="1206.64" y="607.2" width="2.0" height="13.8"/><rect x="1209.83" y="616.4" width="2.0" height="6.4"/><rect x="1211.43" y="622.8" width="2.0" height="7.1"/><rect x="1216.22" y="601.7" width="2.0" height="13.9"/><rect x="1219.42" y="598.3" width="2.0" height="6.2"/><rect x="1225.81" y="577.1" width="2.0" height="14.6"/><rect x="1229.00" y="587.2" width="2.0" height="8.8"/><rect x="1233.80" y="588.4" width="2.0" height="6.7"/><rect x="1236.99" y="593.2" width="2.0" height="9.4"/><rect x="1240.18" y="595.8" width="2.0" height="27.7"/><rect x="1241.78" y="623.5" width="2.0" height="16.1"/><rect x="1243.38" y="639.6" width="2.0" height="6.8"/><rect x="1246.58" y="637.7" width="2.0" height="6.7"/><rect x="1248.17" y="644.4" width="2.0" height="2.1"/><rect x="1251.37" y="632.6" width="2.0" height="2.8"/><rect x="1256.16" y="625.9" width="2.0" height="7.4"/><rect x="1259.36" y="617.8" width="2.0" height="4.0"/><rect x="1268.94" y="576.6" width="2.0" height="6.9"/><rect x="1270.54" y="583.4" width="2.0" height="7.0"/><rect x="1273.73" y="585.8" width="2.0" height="7.0"/><rect x="1278.52" y="582.6" width="2.0" height="1.0"/><rect x="1281.72" y="575.2" width="2.0" height="10.7"/><rect x="1284.91" y="574.4" width="2.0" height="9.8"/><rect x="1288.11" y="580.5" width="2.0" height="5.7"/><rect x="1289.71" y="586.3" width="2.0" height="7.5"/><rect x="1291.30" y="593.8" width="2.0" height="3.1"/><rect x="1292.90" y="596.9" width="2.0" height="9.6"/><rect x="1294.50" y="606.5" width="2.0" height="10.3"/><rect x="1305.68" y="574.0" width="2.0" height="11.8"/><rect x="1310.47" y="569.2" width="2.0" height="11.9"/><rect x="1313.67" y="579.9" width="2.0" height="6.9"/><rect x="1316.87" y="585.2" width="2.0" height="1.0"/><rect x="1318.46" y="585.2" width="2.0" height="1.3"/><rect x="1320.06" y="586.5" width="2.0" height="7.7"/><rect x="1321.66" y="594.2" width="2.0" height="1.0"/><rect x="1329.64" y="569.7" width="2.0" height="9.9"/><rect x="1332.84" y="572.7" width="2.0" height="2.6"/><rect x="1336.03" y="570.7" width="2.0" height="2.8"/><rect x="1337.63" y="573.5" width="2.0" height="5.0"/><rect x="1339.23" y="578.5" width="2.0" height="1.6"/><rect x="1350.41" y="558.1" width="2.0" height="8.8"/><rect x="1353.61" y="557.4" width="2.0" height="33.3"/><rect x="1356.80" y="575.5" width="2.0" height="18.6"/><rect x="1358.40" y="594.1" width="2.0" height="1.3"/><rect x="1361.60" y="591.0" width="2.0" height="2.1"/><rect x="1366.39" y="587.3" width="2.0" height="4.9"/><rect x="1371.18" y="589.0" width="2.0" height="16.3"/><rect x="1374.38" y="594.3" width="2.0" height="1.0"/><rect x="1377.57" y="590.5" width="2.0" height="3.9"/><rect x="1380.76" y="583.0" width="2.0" height="5.8"/><rect x="1383.96" y="582.6" width="2.0" height="8.1"/><rect x="1387.15" y="584.0" width="2.0" height="6.6"/><rect x="1388.75" y="590.6" width="2.0" height="2.9"/><rect x="1395.14" y="577.2" width="2.0" height="3.0"/><rect x="1396.74" y="580.2" width="2.0" height="1.0"/><rect x="1398.34" y="580.7" width="2.0" height="9.7"/><rect x="1399.93" y="590.4" width="2.0" height="3.8"/><rect x="1401.53" y="594.2" width="2.0" height="5.2"/><rect x="1403.13" y="599.4" width="2.0" height="1.0"/><rect x="1404.73" y="599.6" width="2.0" height="11.7"/><rect x="1407.92" y="601.8" width="2.0" height="6.8"/><rect x="1409.52" y="608.6" width="2.0" height="3.8"/><rect x="1414.31" y="607.0" width="2.0" height="8.0"/><rect x="1417.51" y="596.0" width="2.0" height="16.0"/><rect x="1419.11" y="614.0" width="2.0" height="26.0"/></g>
<g stroke="#3a3a3a" stroke-width="1.3" stroke-linecap="round"><line x1="705" y1="591.5" x2="1373.2" y2="527"/><line x1="691" y1="821.5" x2="1457.7" y2="583"/></g>
<rect x="1172" y="657" width="312" height="2" fill="#969696"/>
</g>
<g>
<line x1="1484" y1="29.8" x2="1488" y2="29.8" stroke="#707070"/>
<text x="1492.2" y="34.2" font-size="10" textLength="33.4" lengthAdjust="spacingAndGlyphs" fill="#6e6e6e" stroke="#6e6e6e" stroke-width="0.2">1.55000</text>
<line x1="1484" y1="79.6" x2="1488" y2="79.6" stroke="#707070"/>
<text x="1492.2" y="84.0" font-size="10" textLength="33.4" lengthAdjust="spacingAndGlyphs" fill="#6e6e6e" stroke="#6e6e6e" stroke-width="0.2">1.50000</text>
<line x1="1484" y1="129.5" x2="1488" y2="129.5" stroke="#707070"/>
<text x="1492.2" y="133.9" font-size="10" textLength="33.4" lengthAdjust="spacingAndGlyphs" fill="#6e6e6e" stroke="#6e6e6e" stroke-width="0.2">1.45000</text>
<line x1="1484" y1="179.3" x2="1488" y2="179.3" stroke="#707070"/>
<text x="1492.2" y="183.7" font-size="10" textLength="33.4" lengthAdjust="spacingAndGlyphs" fill="#6e6e6e" stroke="#6e6e6e" stroke-width="0.2">1.40000</text>
<line x1="1484" y1="229.1" x2="1488" y2="229.1" stroke="#707070"/>
<text x="1492.2" y="233.5" font-size="10" textLength="33.4" lengthAdjust="spacingAndGlyphs" fill="#6e6e6e" stroke="#6e6e6e" stroke-width="0.2">1.35000</text>
<line x1="1484" y1="278.9" x2="1488" y2="278.9" stroke="#707070"/>
<text x="1492.2" y="283.3" font-size="10" textLength="33.4" lengthAdjust="spacingAndGlyphs" fill="#6e6e6e" stroke="#6e6e6e" stroke-width="0.2">1.30000</text>
<line x1="1484" y1="328.8" x2="1488" y2="328.8" stroke="#707070"/>
<text x="1492.2" y="333.2" font-size="10" textLength="33.4" lengthAdjust="spacingAndGlyphs" fill="#6e6e6e" stroke="#6e6e6e" stroke-width="0.2">1.25000</text>
<line x1="1484" y1="378.6" x2="1488" y2="378.6" stroke="#707070"/>
<text x="1492.2" y="383.0" font-size="10" textLength="33.4" lengthAdjust="spacingAndGlyphs" fill="#6e6e6e" stroke="#6e6e6e" stroke-width="0.2">1.20000</text>
<line x1="1484" y1="428.4" x2="1488" y2="428.4" stroke="#707070"/>
<text x="1492.2" y="432.8" font-size="10" textLength="33.4" lengthAdjust="spacingAndGlyphs" fill="#6e6e6e" stroke="#6e6e6e" stroke-width="0.2">1.15000</text>
<line x1="1484" y1="478.2" x2="1488" y2="478.2" stroke="#707070"/>
<text x="1492.2" y="482.6" font-size="10" textLength="33.4" lengthAdjust="spacingAndGlyphs" fill="#6e6e6e" stroke="#6e6e6e" stroke-width="0.2">1.10000</text>
<line x1="1484" y1="528.1" x2="1488" y2="528.1" stroke="#707070"/>
<text x="1492.2" y="532.5" font-size="10" textLength="33.4" lengthAdjust="spacingAndGlyphs" fill="#6e6e6e" stroke="#6e6e6e" stroke-width="0.2">1.05000</text>
<line x1="1484" y1="577.9" x2="1488" y2="577.9" stroke="#707070"/>
<text x="1492.2" y="582.3" font-size="10" textLength="33.4" lengthAdjust="spacingAndGlyphs" fill="#6e6e6e" stroke="#6e6e6e" stroke-width="0.2">1.00000</text>
<line x1="1484" y1="627.7" x2="1488" y2="627.7" stroke="#707070"/>
<text x="1492.2" y="632.1" font-size="10" textLength="33.4" lengthAdjust="spacingAndGlyphs" fill="#6e6e6e" stroke="#6e6e6e" stroke-width="0.2">0.95000</text>
<line x1="1484" y1="677.5" x2="1488" y2="677.5" stroke="#707070"/>
<text x="1492.2" y="681.9" font-size="10" textLength="33.4" lengthAdjust="spacingAndGlyphs" fill="#6e6e6e" stroke="#6e6e6e" stroke-width="0.2">0.90000</text>
<line x1="1484" y1="727.4" x2="1488" y2="727.4" stroke="#707070"/>
<text x="1492.2" y="731.8" font-size="10" textLength="33.4" lengthAdjust="spacingAndGlyphs" fill="#6e6e6e" stroke="#6e6e6e" stroke-width="0.2">0.85000</text>
<line x1="1484" y1="777.2" x2="1488" y2="777.2" stroke="#707070"/>
<text x="1492.2" y="781.6" font-size="10" textLength="33.4" lengthAdjust="spacingAndGlyphs" fill="#6e6e6e" stroke="#6e6e6e" stroke-width="0.2">0.80000</text>
<line x1="1484" y1="827.0" x2="1488" y2="827.0" stroke="#707070"/>
<text x="1492.2" y="831.4" font-size="10" textLength="33.4" lengthAdjust="spacingAndGlyphs" fill="#6e6e6e" stroke="#6e6e6e" stroke-width="0.2">0.75000</text>
<line x1="1484" y1="876.8" x2="1488" y2="876.8" stroke="#707070"/>
<text x="1492.2" y="881.2" font-size="10" textLength="33.4" lengthAdjust="spacingAndGlyphs" fill="#6e6e6e" stroke="#6e6e6e" stroke-width="0.2">0.70000</text>
<line x1="73.2" y1="896" x2="73.2" y2="899" stroke="#707070"/>
<text x="62.4" y="911.9" font-size="10" textLength="21.6" lengthAdjust="spacingAndGlyphs" fill="#6e6e6e" stroke="#6e6e6e" stroke-width="0.2">2004</text>
<line x1="156.3" y1="896" x2="156.3" y2="899" stroke="#707070"/>
<text x="145.5" y="911.9" font-size="10" textLength="21.6" lengthAdjust="spacingAndGlyphs" fill="#6e6e6e" stroke="#6e6e6e" stroke-width="0.2">2005</text>
<line x1="238.9" y1="896" x2="238.9" y2="899" stroke="#707070"/>
<text x="228.1" y="911.9" font-size="10" textLength="21.6" lengthAdjust="spacingAndGlyphs" fill="#6e6e6e" stroke="#6e6e6e" stroke-width="0.2">2006</text>
<line x1="322.6" y1="896" x2="322.6" y2="899" stroke="#707070"/>
<text x="311.8" y="911.9" font-size="10" textLength="21.6" lengthAdjust="spacingAndGlyphs" fill="#6e6e6e" stroke="#6e6e6e" stroke-width="0.2">2007</text>
<line x1="407.2" y1="896" x2="407.2" y2="899" stroke="#707070"/>
<text x="396.4" y="911.9" font-size="10" textLength="21.6" lengthAdjust="spacingAndGlyphs" fill="#6e6e6e" stroke="#6e6e6e" stroke-width="0.2">2008</text>
<line x1="490.4" y1="896" x2="490.4" y2="899" stroke="#707070"/>
<text x="479.6" y="911.9" font-size="10" textLength="21.6" lengthAdjust="spacingAndGlyphs" fill="#6e6e6e" stroke="#6e6e6e" stroke-width="0.2">2009</text>
<line x1="573.4" y1="896" x2="573.4" y2="899" stroke="#707070"/>
<text x="562.6" y="911.9" font-size="10" textLength="21.6" lengthAdjust="spacingAndGlyphs" fill="#6e6e6e" stroke="#6e6e6e" stroke-width="0.2">2010</text>
<line x1="656.1" y1="896" x2="656.1" y2="899" stroke="#707070"/>
<text x="645.3" y="911.9" font-size="10" textLength="21.6" lengthAdjust="spacingAndGlyphs" fill="#6e6e6e" stroke="#6e6e6e" stroke-width="0.2">2011</text>
<line x1="739.8" y1="896" x2="739.8" y2="899" stroke="#707070"/>
<text x="729.0" y="911.9" font-size="10" textLength="21.6" lengthAdjust="spacingAndGlyphs" fill="#6e6e6e" stroke="#6e6e6e" stroke-width="0.2">2012</text>
<line x1="824.4" y1="896" x2="824.4" y2="899" stroke="#707070"/>
<text x="813.6" y="911.9" font-size="10" textLength="21.6" lengthAdjust="spacingAndGlyphs" fill="#6e6e6e" stroke="#6e6e6e" stroke-width="0.2">2013</text>
<line x1="907.4" y1="896" x2="907.4" y2="899" stroke="#707070"/>
<text x="896.6" y="911.9" font-size="10" textLength="21.6" lengthAdjust="spacingAndGlyphs" fill="#6e6e6e" stroke="#6e6e6e" stroke-width="0.2">2014</text>
<line x1="990.3" y1="896" x2="990.3" y2="899" stroke="#707070"/>
<text x="979.5" y="911.9" font-size="10" textLength="21.6" lengthAdjust="spacingAndGlyphs" fill="#6e6e6e" stroke="#6e6e6e" stroke-width="0.2">2015</text>
<line x1="1073.3" y1="896" x2="1073.3" y2="899" stroke="#707070"/>
<text x="1062.5" y="911.9" font-size="10" textLength="21.6" lengthAdjust="spacingAndGlyphs" fill="#6e6e6e" stroke="#6e6e6e" stroke-width="0.2">2016</text>
<line x1="1156.6" y1="896" x2="1156.6" y2="899" stroke="#707070"/>
<text x="1145.8" y="911.9" font-size="10" textLength="21.6" lengthAdjust="spacingAndGlyphs" fill="#6e6e6e" stroke="#6e6e6e" stroke-width="0.2">2017</text>
<line x1="1239.6" y1="896" x2="1239.6" y2="899" stroke="#707070"/>
<text x="1228.8" y="911.9" font-size="10" textLength="21.6" lengthAdjust="spacingAndGlyphs" fill="#6e6e6e" stroke="#6e6e6e" stroke-width="0.2">2018</text>
<line x1="1324.3" y1="896" x2="1324.3" y2="899" stroke="#707070"/>
<text x="1313.5" y="911.9" font-size="10" textLength="21.6" lengthAdjust="spacingAndGlyphs" fill="#6e6e6e" stroke="#6e6e6e" stroke-width="0.2">2019</text>
<line x1="1407.6" y1="896" x2="1407.6" y2="899" stroke="#707070"/>
<text x="1396.8" y="911.9" font-size="10" textLength="21.6" lengthAdjust="spacingAndGlyphs" fill="#6e6e6e" stroke="#6e6e6e" stroke-width="0.2">2020</text>
</g>
<line x1="1484.5" y1="1" x2="1484.5" y2="919" stroke="#8c8c8c" stroke-width="1"/>
<line x1="4" y1="896.5" x2="1533" y2="896.5" stroke="#7a7a7a" stroke-width="1"/>
<g>
<rect x="1484" y="37.2" width="49" height="15" fill="#1a0dff"/>
<line x1="1484" y1="44.7" x2="1487" y2="44.7" stroke="#fff"/>
<text x="1491.4" y="47.9" font-size="10" textLength="34.2" lengthAdjust="spacingAndGlyphs" fill="#eeeeff" stroke="#dcdcff" stroke-width="0.15">1.53500</text>
<rect x="1484" y="181.3" width="49" height="15" fill="#1a0dff"/>
<line x1="1484" y1="188.8" x2="1487" y2="188.8" stroke="#fff"/>
<text x="1491.4" y="192.0" font-size="10" textLength="34.2" lengthAdjust="spacingAndGlyphs" fill="#eeeeff" stroke="#dcdcff" stroke-width="0.15">1.39048</text>
<rect x="1484" y="297.8" width="49" height="15" fill="#1a0dff"/>
<line x1="1484" y1="305.3" x2="1487" y2="305.3" stroke="#fff"/>
<text x="1491.4" y="308.5" font-size="10" textLength="34.2" lengthAdjust="spacingAndGlyphs" fill="#eeeeff" stroke="#dcdcff" stroke-width="0.15">1.27355</text>
<rect x="1484" y="443.0" width="49" height="15" fill="#1a0dff"/>
<line x1="1484" y1="450.5" x2="1487" y2="450.5" stroke="#fff"/>
<text x="1491.4" y="453.7" font-size="10" textLength="34.2" lengthAdjust="spacingAndGlyphs" fill="#eeeeff" stroke="#dcdcff" stroke-width="0.15">1.12784</text>
<rect x="1484" y="573.1" width="49" height="15" fill="#1a0dff"/>
<line x1="1484" y1="580.6" x2="1487" y2="580.6" stroke="#fff"/>
<text x="1491.4" y="583.8" font-size="10" textLength="34.2" lengthAdjust="spacingAndGlyphs" fill="#eeeeff" stroke="#dcdcff" stroke-width="0.15">0.99729</text>
<rect x="1484" y="687.4" width="49" height="15" fill="#1a0dff"/>
<line x1="1484" y1="694.9" x2="1487" y2="694.9" stroke="#fff"/>
<text x="1491.4" y="698.1" font-size="10" textLength="34.2" lengthAdjust="spacingAndGlyphs" fill="#eeeeff" stroke="#dcdcff" stroke-width="0.15">0.88257</text>
<rect x="1484" y="810.5" width="49" height="15" fill="#1a0dff"/>
<line x1="1484" y1="818.0" x2="1487" y2="818.0" stroke="#fff"/>
<text x="1491.4" y="821.2" font-size="10" textLength="34.2" lengthAdjust="spacingAndGlyphs" fill="#eeeeff" stroke="#dcdcff" stroke-width="0.15">0.75899</text>
<rect x="1484" y="588" width="49" height="14.6" fill="#70a480"/>
<line x1="1484" y1="595.3" x2="1487" y2="595.3" stroke="#eef"/>
<text x="1491.4" y="598.5" font-size="10" textLength="34.2" lengthAdjust="spacingAndGlyphs" fill="#eef5ef">0.98527</text>
</g>
<text x="12.5" y="20.4" font-size="13.5" textLength="153.2" lengthAdjust="spacingAndGlyphs" fill="#6a6a6a" stroke="#6a6a6a" stroke-width="0.25">U.S. Dollar / Swiss Franc</text>
<circle cx="171.2" cy="16.3" r="1" fill="#b3b7c2"/><circle cx="200.9" cy="16.3" r="1" fill="#b3b7c2"/>
<text x="177.5" y="20.4" font-size="13.5" textLength="18.3" lengthAdjust="spacingAndGlyphs" fill="#6a6a6a" stroke="#6a6a6a" stroke-width="0.25">1W</text>
<text x="206.8" y="20.4" font-size="13.5" textLength="32.5" lengthAdjust="spacingAndGlyphs" fill="#6a6a6a" stroke="#6a6a6a" stroke-width="0.25">FXCM</text>
<text x="248.7" y="20.6" font-size="12.2" textLength="7.0" lengthAdjust="spacingAndGlyphs" fill="#707070" stroke="#707070" stroke-width="0.2">O</text>
<text x="256.5" y="20.6" font-size="12.2" textLength="39.3" lengthAdjust="spacingAndGlyphs" fill="#558c63" stroke="#558c63" stroke-width="0.2">0.95353</text>
<text x="302.6" y="20.6" font-size="12.2" textLength="6.2" lengthAdjust="spacingAndGlyphs" fill="#707070" stroke="#707070" stroke-width="0.2">H</text>
<text x="309.6" y="20.6" font-size="12.2" textLength="39.3" lengthAdjust="spacingAndGlyphs" fill="#558c63" stroke="#558c63" stroke-width="0.2">0.99005</text>
<text x="355.9" y="20.6" font-size="12.2" textLength="5.1" lengthAdjust="spacingAndGlyphs" fill="#707070" stroke="#707070" stroke-width="0.2">L</text>
<text x="361.4" y="20.6" font-size="12.2" textLength="39.3" lengthAdjust="spacingAndGlyphs" fill="#558c63" stroke="#558c63" stroke-width="0.2">0.93916</text>
<text x="407.1" y="20.6" font-size="12.2" textLength="6.2" lengthAdjust="spacingAndGlyphs" fill="#707070" stroke="#707070" stroke-width="0.2">C</text>
<text x="414.1" y="20.6" font-size="12.2" textLength="39.3" lengthAdjust="spacingAndGlyphs" fill="#558c63" stroke="#558c63" stroke-width="0.2">0.98527</text>
<text x="459.1" y="20.6" font-size="12.2" textLength="45.3" lengthAdjust="spacingAndGlyphs" fill="#558c63" stroke="#558c63" stroke-width="0.2">+0.03458</text>
<text x="508.7" y="20.6" font-size="12.2" textLength="42.2" lengthAdjust="spacingAndGlyphs" fill="#558c63" stroke="#558c63" stroke-width="0.2">(+3.64%)</text>
<g fill="#fff" fill-opacity="0.6"><rect x="32" y="29" width="126" height="17"/><rect x="32" y="50" width="120" height="17"/><rect x="32" y="71" width="65" height="17"/><rect x="32" y="92" width="120" height="17"/></g>
<text x="36.1" y="40.0" font-size="11.8" textLength="70.3" lengthAdjust="spacingAndGlyphs" fill="#555555" stroke="#555555" stroke-width="0.2">EMA 200 close</text>
<text x="114.8" y="40.0" font-size="11.8" textLength="39.6" lengthAdjust="spacingAndGlyphs" fill="#43a047" stroke="#43a047" stroke-width="0.2">0.98075</text>
<text x="36.0" y="61.0" font-size="11.8" textLength="64.4" lengthAdjust="spacingAndGlyphs" fill="#555555" stroke="#555555" stroke-width="0.2">EMA 50 close</text>
<text x="108.7" y="61.0" font-size="11.8" textLength="39.8" lengthAdjust="spacingAndGlyphs" fill="#d63031" stroke="#d63031" stroke-width="0.2">0.98162</text>
<text x="36.0" y="81.6" font-size="11.8" textLength="30.1" lengthAdjust="spacingAndGlyphs" fill="#bcc0ca">Vol 20</text>
<text x="36.0" y="102.7" font-size="11.8" textLength="64.4" lengthAdjust="spacingAndGlyphs" fill="#555555" stroke="#555555" stroke-width="0.2">EMA 20 close</text>
<text x="108.7" y="102.7" font-size="11.8" textLength="39.8" lengthAdjust="spacingAndGlyphs" fill="#3a7fe0" stroke="#3a7fe0" stroke-width="0.2">0.97384</text>
<rect x="12.9" y="27.6" width="15.4" height="17.5" rx="2" fill="#fff" stroke="#d9dce5" stroke-width="1"/>
<polyline points="17.2,34.6 20.6,37.9 24,34.6" fill="none" stroke="#363a45" stroke-width="1.6"/>
<g fill="none" stroke="#50545f" stroke-width="1.2"><path d="M77.6 77.4 C80.5 72.4 87.5 72.2 90.4 77.4 C87.5 82.4 80.5 82.6 77.6 77.4 Z"/><circle cx="84" cy="77.4" r="2.2"/><line x1="78.6" y1="82.6" x2="89.4" y2="72.2"/></g>
<rect x="1405" y="14.5" width="5.8" height="4.8" rx="2.3" fill="#8f93a0"/>
<text x="1413.8" y="20.1" font-size="10.2" textLength="66.2" lengthAdjust="spacingAndGlyphs" fill="#a6a9b3">Market Closed</text>
<g stroke="#2a2e39" fill="none"><circle cx="1507.8" cy="908.1" r="4.4" stroke-width="1.2"/><g stroke-width="1.3"><line x1="1512.80" y1="908.10" x2="1514.40" y2="908.10"/><line x1="1511.34" y1="911.64" x2="1512.47" y2="912.77"/><line x1="1507.80" y1="913.10" x2="1507.80" y2="914.70"/><line x1="1504.26" y1="911.64" x2="1503.13" y2="912.77"/><line x1="1502.80" y1="908.10" x2="1501.20" y2="908.10"/><line x1="1504.26" y1="904.56" x2="1503.13" y2="903.43"/><line x1="1507.80" y1="903.10" x2="1507.80" y2="901.50"/><line x1="1511.34" y1="904.56" x2="1512.47" y2="903.43"/></g></g>
<defs><clipPath id="ecl"><circle cx="1424.1" cy="883.1" r="7.6"/></clipPath></defs>
<circle cx="1424.1" cy="883.1" r="11.5" fill="#fff"/>
<path d="M1425.80 873.45 A9.8 9.8 0 1 0 1433.89 882.76" fill="none" stroke="#ef4d6b" stroke-width="2.1"/>
<g clip-path="url(#ecl)"><rect x="1425.3" y="881.3" width="9" height="3.4" fill="#e4505e"/><rect x="1414" y="886.9" width="20" height="3.3" fill="#e4505e"/><rect x="1414" y="875" width="11.3" height="10" fill="#6396e6"/><g stroke="#dfe9fb" stroke-width="0.5" opacity="0.8"><line x1="1414" y1="877.6" x2="1425.3" y2="877.6"/><line x1="1414" y1="880.2" x2="1425.3" y2="880.2"/><line x1="1414" y1="882.8" x2="1425.3" y2="882.8"/><line x1="1419.2" y1="875" x2="1419.2" y2="885"/><line x1="1421.8" y1="875" x2="1421.8" y2="885"/><line x1="1424.2" y1="875" x2="1424.2" y2="885"/></g></g>
<text x="1429" y="879" font-size="8.2" fill="#1a1a1a" stroke="#1a1a1a" stroke-width="0.35">4</text>
</svg>
<div id="frame-top"></div><div id="frame-left"></div><div id="frame-right"></div>
<div id="tb"></div>
</body></html>
